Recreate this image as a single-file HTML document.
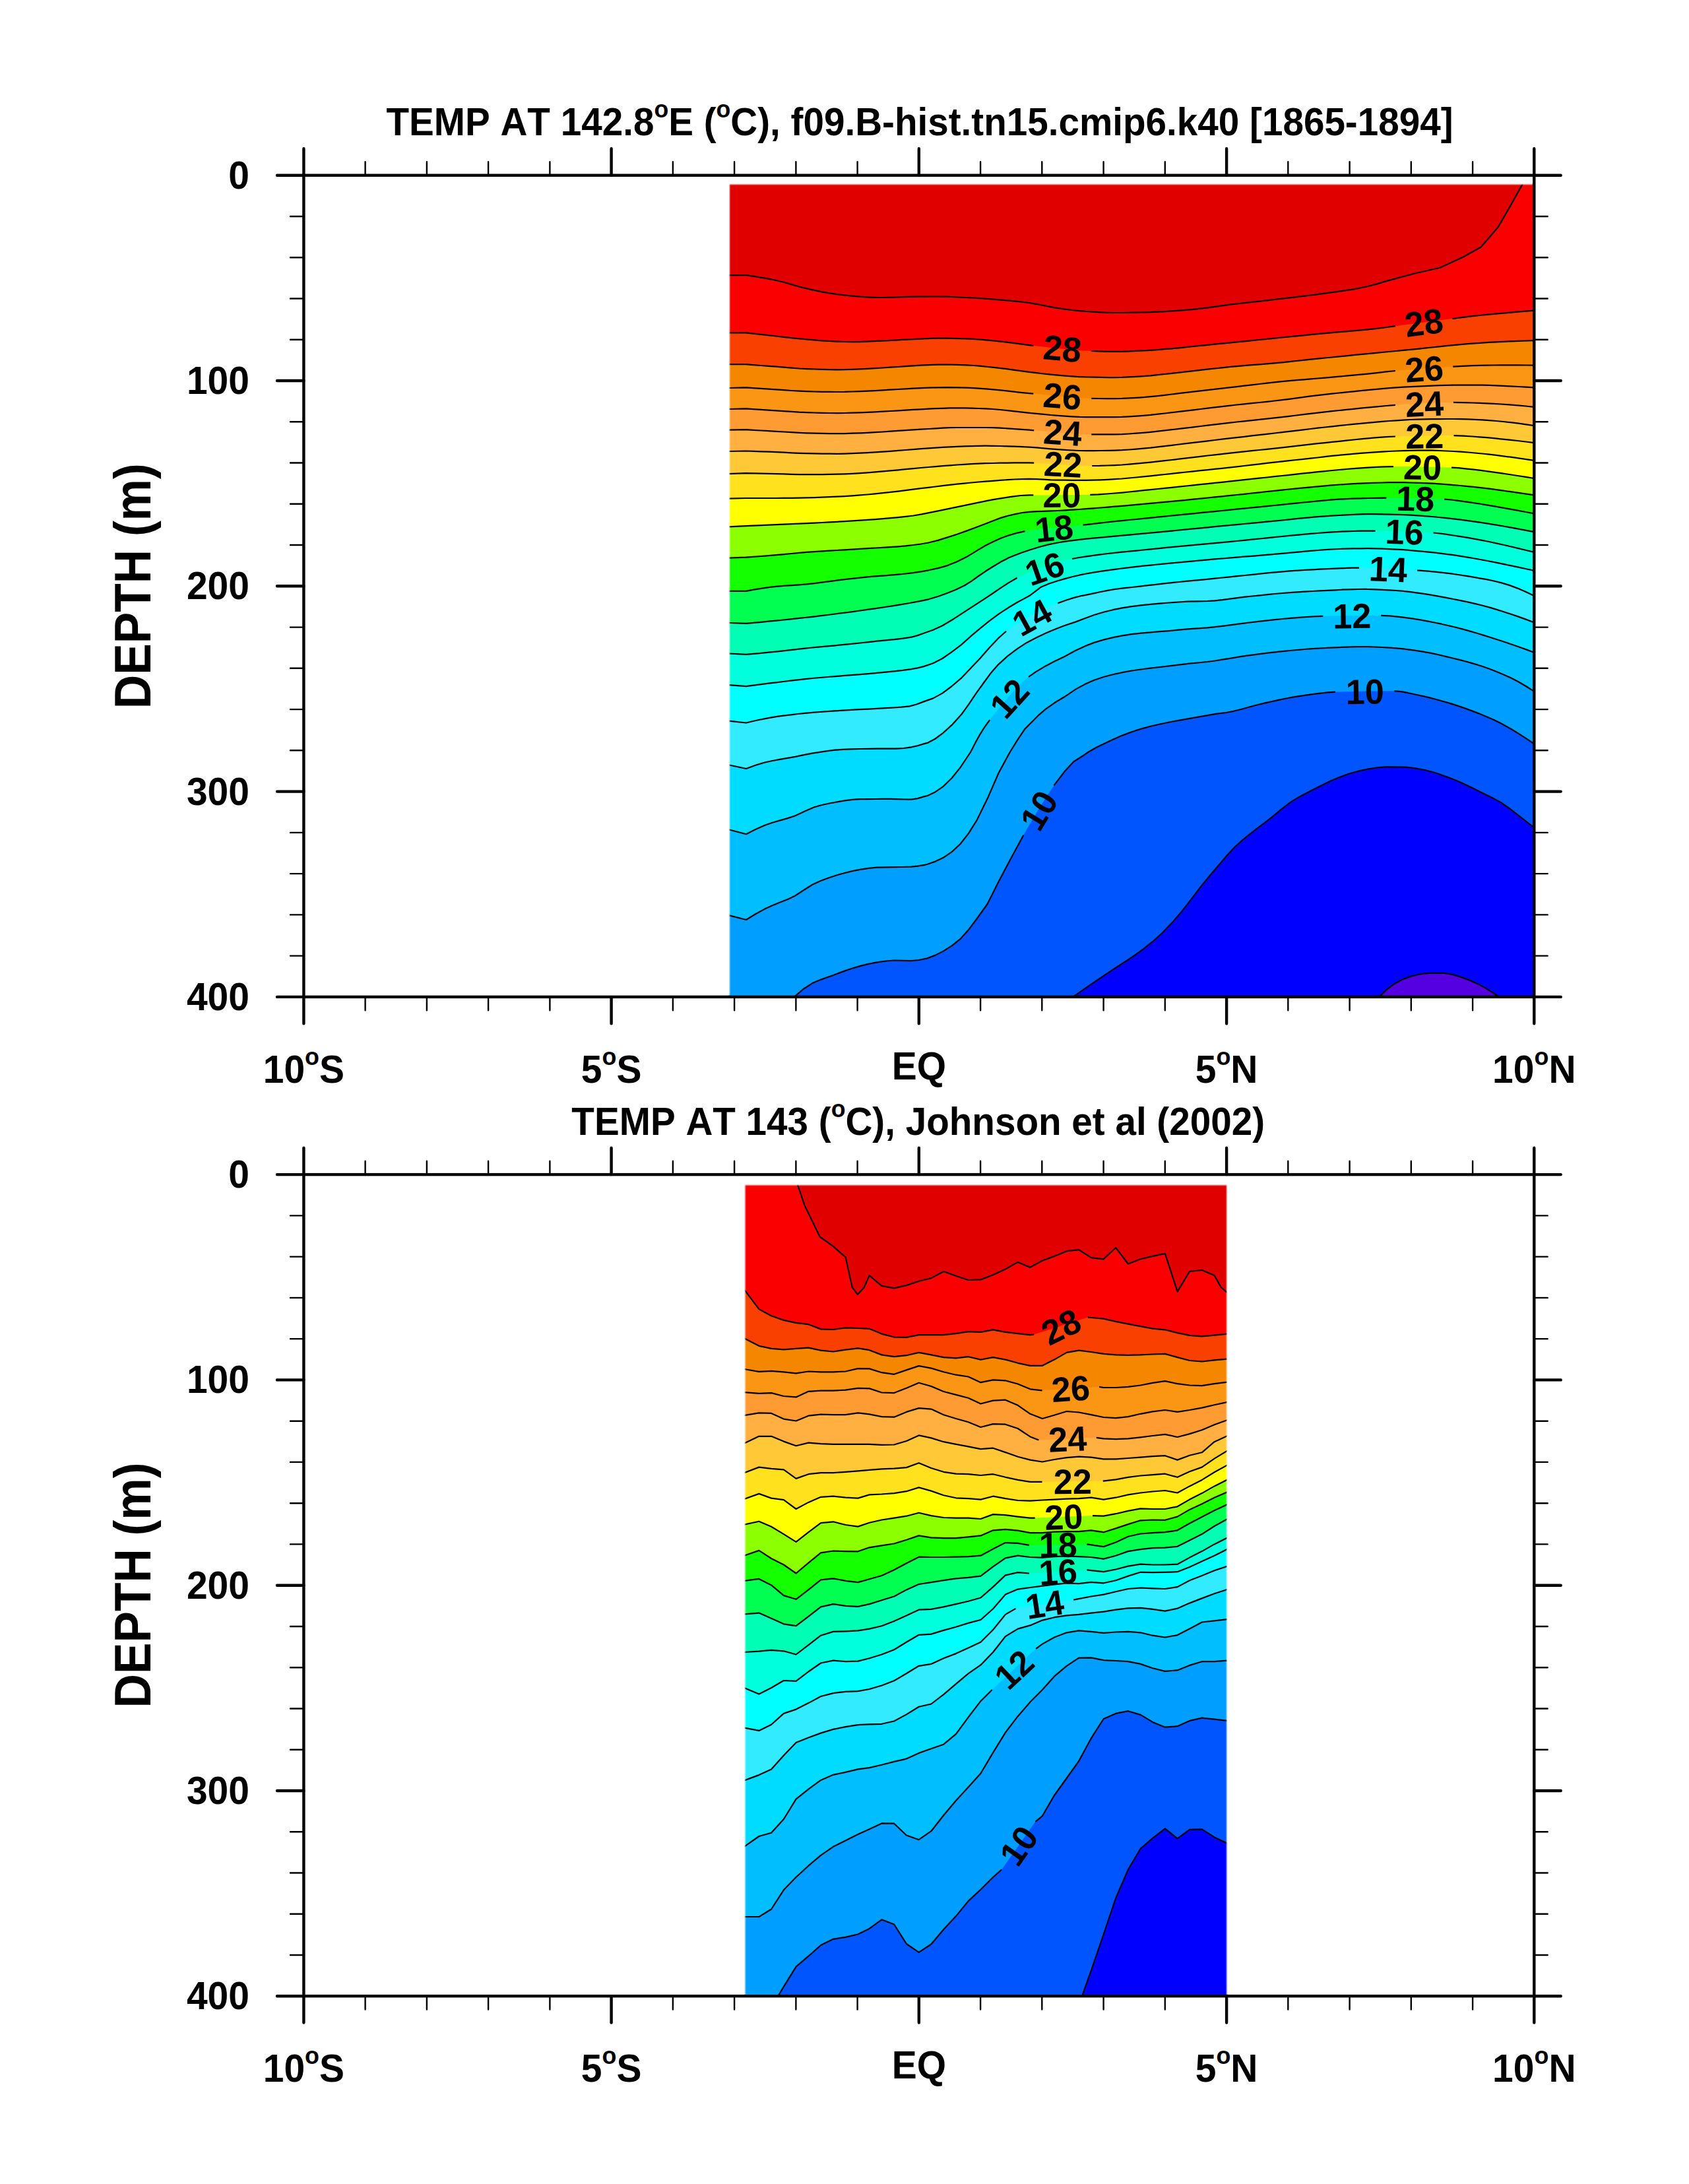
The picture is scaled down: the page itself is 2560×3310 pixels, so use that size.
<!DOCTYPE html>
<html lang="en"><head><meta charset="utf-8"><title>TEMP AT 142.8E</title>
<style>html,body{margin:0;padding:0;background:#fff}svg{display:block}text{font-kerning:none}</style></head>
<body>
<svg width="2560" height="3310" viewBox="0 0 2560 3310" font-family="'Liberation Sans', Arial, Helvetica, sans-serif" fill="#000">
<rect width="2560" height="3310" fill="#fff"/>
<defs><linearGradient id="gl" x1="0" y1="0" x2="1" y2="0"><stop offset="0.15" stop-color="#fff"/><stop offset="1" stop-color="#fff" stop-opacity="0"/></linearGradient><linearGradient id="gr" x1="1" y1="0" x2="0" y2="0"><stop offset="0.15" stop-color="#fff"/><stop offset="1" stop-color="#fff" stop-opacity="0"/></linearGradient><linearGradient id="gt" x1="0" y1="0" x2="0" y2="1"><stop offset="0.15" stop-color="#fff"/><stop offset="1" stop-color="#fff" stop-opacity="0"/></linearGradient></defs>
<clipPath id="c1"><rect x="1104.5" y="278.1" width="1220.8" height="1232.8"/></clipPath>
<g clip-path="url(#c1)">
<rect x="1104.5" y="278.1" width="1220.8" height="1232.8" fill="#E00000"/>
<path fill="#FA0000" d="M1104.5 417.2 1130.4 417.2 1141.9 418.7 1153.5 420.6 1165 422.7 1176.5 425 1188 427.8 1199.6 431.1 1211.2 434.5 1222.7 437.4 1234.2 439.9 1245.8 442.3 1257.3 444.4 1268.8 446.1 1280.3 447.5 1291.9 448.7 1303.5 449.7 1315 450.4 1325.1 450.8 1335.2 451 1346 450.8 1356.8 450.5 1367.7 450.1 1378.5 449.8 1389.3 449.7 1400.1 449.6 1410.9 449.5 1421.7 449.5 1432.5 449.6 1443.3 450 1454.2 450.5 1465 451 1475.8 451.6 1486.7 452.2 1497.5 453 1508.3 453.8 1521.2 454.9 1534.1 456.1 1547 457.4 1560 459 1570.8 460.8 1581.6 463 1592.5 465.2 1603.3 467.1 1614.1 468.6 1624.9 470 1635.7 471.1 1646.5 472 1657.3 472.7 1668.2 473.4 1679 473.8 1689.8 474 1700.6 474 1711.4 473.9 1722.3 473.7 1733.1 473.5 1743.9 473.2 1754.7 472.7 1765.5 472.1 1776.3 471.4 1787.1 470.7 1797.9 469.8 1808.8 468.8 1819.6 467.7 1830.4 466.4 1841.2 464.9 1852.1 463.4 1862.9 461.9 1874.4 460.5 1885.9 459.2 1897.4 457.9 1908.8 456.6 1920.3 455.3 1931.8 454 1943.3 452.7 1954.1 451.4 1964.9 450.1 1975.7 448.8 1986.5 447.5 1997.3 446.1 2008.2 444.7 2019 443.2 2029.8 441.7 2039.9 440.2 2050 438.6 2060.1 436.8 2074 433.7 2088 430.1 2101.9 425.9 2145.2 414.3 2182.7 405.7 2217.3 389.8 2244.7 374.5 2270.7 344.2 2289.4 311.9 2308.2 278.1 2325.3 278.1 2325.3 1510.9 1104.5 1510.9 Z"/>
<path fill="#FA4000" d="M1104.5 504.3 1130.4 504.3 1141.9 505.6 1153.5 506.9 1165 508.2 1176.5 509.5 1188 510.8 1199.6 512.1 1211.2 513.3 1222.7 514.4 1234.2 515.4 1245.8 516.3 1257.3 517 1268.8 517.6 1280.3 518 1291.9 518.2 1302.7 518.1 1313.6 517.7 1324.4 517.2 1335.2 516.7 1346 516.2 1356.8 515.6 1367.7 514.9 1378.5 514.4 1389.3 513.9 1400.1 513.3 1410.9 512.9 1421.7 512.7 1432.5 512.7 1443.3 512.9 1454.2 513.1 1465 513.3 1475.8 513.8 1486.7 514.6 1497.5 515.6 1508.3 516.7 1521.2 518.1 1534.1 519.7 1547 521.4 1560 523.1 1566.3 523.9 1578.9 525.3 1591.4 526.7 1604 528.1 1616.6 529.4 1629.2 530.5 1641.7 531.4 1654.3 532 1666.1 532.4 1678 532.8 1689.8 532.9 1700.6 532.8 1711.4 532.4 1722.3 531.9 1733.1 531.4 1743.9 530.8 1754.7 530.1 1765.5 529.2 1776.3 528.3 1787.1 527.3 1797.9 526.2 1808.8 525 1819.6 523.9 1830.4 522.8 1841.2 521.7 1852.1 520.7 1862.9 519.6 1874.4 518.4 1885.9 517.3 1897.4 516.1 1908.8 515 1920.3 513.8 1931.8 512.7 1943.3 511.5 1954.1 510.4 1964.9 509.3 1975.7 508.3 1986.5 507.2 1997.3 506.2 2008.2 505.2 2019 504.2 2029.8 503.2 2040.6 502.3 2051.4 501.4 2062.3 500.4 2073.1 499.4 2087.5 497.8 2101.9 496 2114.9 494.2 2127.3 492.5 2139.6 490.9 2152 489.3 2164.3 487.7 2176.7 486.1 2189 484.6 2201.4 483 2211.5 481.7 2221.6 480.4 2231.7 479.2 2242.5 478 2253.3 476.9 2264.2 475.9 2275 474.9 2287.6 473.8 2300.2 472.7 2312.7 471.6 2325.3 470.6 2325.3 1510.9 1104.5 1510.9 Z"/>
<path fill="#F58700" d="M1104.5 552.2 1130.4 552.2 1141.9 553.1 1153.5 554 1165 554.8 1176.5 555.7 1188 556.6 1199.6 557.6 1211.2 558.5 1222.7 559.1 1234.2 559.5 1245.8 559.9 1257.3 560.2 1268.8 560.3 1280.3 560.2 1291.9 559.8 1303.5 559.3 1315 558.8 1326.5 558.2 1338.1 557.5 1349.7 556.7 1361.2 556 1372.7 555.2 1384.2 554.4 1395.8 553.6 1407.3 553.1 1421.8 552.7 1436.2 552.5 1450.6 552.8 1465 553.4 1475.8 554 1486.7 554.9 1497.5 556 1508.3 557.1 1521.2 558.6 1534.1 560.3 1547 562.1 1560 563.8 1570.8 565.1 1581.6 566.5 1592.5 567.7 1603.3 568.7 1614.1 569.6 1624.9 570.4 1635.7 571.1 1646.5 571.5 1657.3 571.7 1668.2 571.9 1679 572.1 1689.8 572.1 1700.6 571.9 1711.4 571.4 1722.3 570.8 1733.1 570.1 1743.9 569.3 1754.7 568.2 1765.5 567 1776.3 565.8 1787.1 564.6 1797.9 563.4 1808.8 562.1 1819.6 560.9 1830.4 559.7 1841.2 558.5 1852.1 557.3 1862.9 556.2 1874.4 555.1 1885.9 554.1 1897.4 553.2 1908.8 552.3 1920.3 551.3 1931.8 550.4 1943.3 549.3 1954.1 548.2 1964.9 547 1975.7 545.8 1986.5 544.7 1997.3 543.6 2008.2 542.5 2019 541.5 2029.8 540.4 2040.6 539.3 2051.4 538.2 2062.3 537.2 2073.1 536.1 2083.9 535.1 2094.7 534 2105.5 533 2116.3 532 2127.1 530.9 2137.9 529.9 2148.8 528.8 2159.6 527.7 2170.4 526.5 2181.2 525.3 2192.1 524.2 2202.9 523.1 2213.7 522.1 2224.6 521.2 2235.4 520.4 2246.2 519.6 2257 518.9 2267.8 518.3 2278.6 517.8 2289.4 517.3 2301.4 516.9 2313.3 516.5 2325.3 516.2 2325.3 1510.9 1104.5 1510.9 Z"/>
<path fill="#FA9614" d="M1104.5 588 1130.4 587.4 1141.9 588.1 1153.5 588.9 1165 589.6 1176.5 590.3 1188 591.1 1199.6 592 1211.2 592.7 1222.7 593.2 1234.2 593.5 1245.8 593.8 1257.3 593.9 1268.8 594 1280.3 593.9 1291.9 593.5 1303.5 593.1 1315 592.6 1326.5 592.1 1338.1 591.4 1349.7 590.7 1361.2 590 1372.7 589.4 1384.2 588.7 1395.8 588.1 1407.3 587.7 1421.8 587.3 1436.2 587.1 1450.6 587.3 1465 587.7 1475.8 588.2 1486.7 588.9 1497.5 589.7 1508.3 590.6 1521.2 591.8 1534.1 593.3 1547 594.8 1560 596.1 1566.3 596.6 1578.9 597.7 1591.4 599 1604 600.3 1616.6 601.5 1629.2 602.6 1641.7 603.4 1654.3 603.8 1666.1 604 1678 604.1 1689.8 604.1 1700.6 603.9 1711.4 603.4 1722.3 602.8 1733.1 602.1 1743.9 601.2 1754.7 600.1 1765.5 598.8 1776.3 597.5 1787.1 596.2 1797.9 594.9 1808.8 593.6 1819.6 592.3 1830.4 591.1 1841.2 589.8 1852.1 588.6 1862.9 587.4 1874.4 586.1 1885.9 584.7 1897.4 583.3 1908.8 582 1920.3 580.6 1931.8 579.4 1943.3 578.2 1954.1 577.2 1964.9 576.2 1975.7 575.3 1986.5 574.4 1997.3 573.5 2008.2 572.6 2019 571.6 2029.8 570.7 2040.6 569.7 2051.4 568.7 2062.3 567.7 2073.1 566.6 2087 565.1 2101 563.4 2114.9 562 2127.4 560.9 2139.9 559.9 2152.4 559 2164.8 558.1 2177.3 557.2 2189.8 556.4 2202.3 555.7 2217 554.8 2231.7 554.2 2242.5 553.9 2253.3 553.6 2264.2 553.5 2275 553.4 2287.6 553.4 2300.2 553.4 2312.7 553.5 2325.3 553.7 2325.3 1510.9 1104.5 1510.9 Z"/>
<path fill="#FF9B32" d="M1104.5 620 1130.4 619.4 1141.9 620.1 1153.5 620.9 1165 621.6 1176.5 622.3 1188 623.1 1199.6 623.9 1211.2 624.7 1222.7 625.2 1234.2 625.5 1245.8 625.8 1257.3 626 1268.8 626.1 1280.3 626 1291.9 625.7 1303.5 625.3 1315 624.9 1326.5 624.4 1338.1 623.7 1349.7 623 1361.2 622.3 1372.7 621.6 1384.2 620.9 1395.8 620.3 1407.3 619.7 1418.1 619.2 1428.9 618.8 1439.8 618.4 1450.6 618.3 1461.4 618.4 1472.2 618.6 1483 619 1493.8 619.4 1504.8 620 1515.8 621 1526.9 622.1 1537.9 623.4 1548.9 624.7 1560 625.8 1570.8 626.9 1581.6 627.9 1592.5 629 1603.3 629.8 1614.1 630.6 1624.9 631.3 1635.7 631.9 1646.5 632.1 1657.3 632.1 1668.2 632.1 1679 632.1 1689.8 632.1 1700.6 631.9 1711.4 631.3 1722.3 630.6 1733.1 629.8 1743.9 628.9 1754.7 627.7 1765.5 626.5 1776.3 625.2 1787.1 623.9 1797.9 622.6 1808.8 621.3 1819.6 620 1830.4 618.7 1841.2 617.4 1852.1 616.1 1862.9 614.8 1874.4 613.5 1885.9 612.3 1897.4 611.2 1908.8 610 1920.3 608.8 1931.8 607.5 1943.3 606.2 1954.1 604.8 1964.9 603.3 1975.7 601.8 1986.5 600.4 1997.3 599.1 2008.2 597.9 2019 596.7 2029.8 595.5 2040.6 594.4 2051.4 593.3 2062.3 592.2 2073.1 591.2 2083.9 590.2 2094.7 589.2 2105.5 588.2 2116.3 587.4 2127.1 586.7 2137.9 586.1 2148.8 585.6 2159.6 585.1 2170.4 584.6 2181.2 584.2 2192.1 583.8 2202.9 583.7 2213.7 583.7 2224.6 583.7 2235.4 583.7 2246.2 583.7 2257 583.9 2267.8 584.3 2278.6 584.9 2289.4 585.4 2301.4 586 2313.3 586.7 2325.3 587.4 2325.3 1510.9 1104.5 1510.9 Z"/>
<path fill="#FFB040" d="M1104.5 651.7 1130.4 651.2 1141.9 651.9 1153.5 652.5 1165 653.2 1176.5 653.8 1188 654.5 1199.6 655.2 1211.2 655.8 1222.7 656.3 1234.2 656.6 1245.8 656.9 1257.3 657.1 1268.8 657.2 1280.3 657.1 1291.9 656.7 1303.5 656.3 1315 655.8 1326.5 655.2 1338.1 654.5 1349.7 653.7 1361.2 652.9 1372.7 652.2 1384.2 651.4 1395.8 650.7 1407.3 650 1418.1 649.4 1428.9 648.7 1439.8 648.2 1450.6 648 1461.4 648 1472.2 648 1483 648 1493.8 648 1504.8 648.2 1515.8 648.6 1526.9 649.3 1537.9 650.1 1548.9 650.9 1560 651.7 1567.2 652.3 1579.6 653.3 1592.1 654.5 1604.5 655.6 1617 656.7 1629.4 657.6 1641.9 658.2 1654.3 658.4 1666.1 658.4 1678 658.4 1689.8 658.4 1700.6 658.1 1711.4 657.5 1722.3 656.7 1733.1 655.8 1743.9 654.8 1754.7 653.7 1765.5 652.4 1776.3 651.2 1787.1 649.9 1797.9 648.6 1808.8 647.3 1819.6 646 1830.4 644.7 1841.2 643.4 1852.1 642.1 1862.9 640.8 1874.4 639.5 1885.9 638.3 1897.4 637.1 1908.8 635.8 1920.3 634.6 1931.8 633.4 1943.3 632.1 1954.1 630.8 1964.9 629.5 1975.7 628.2 1986.5 626.9 1997.3 625.6 2008.2 624.4 2019 623.2 2029.8 622 2040.6 620.9 2051.4 619.8 2062.3 618.7 2073.1 617.7 2087 616.3 2101 615 2114.9 613.9 2127.5 613.1 2140 612.3 2152.6 611.5 2165.2 610.9 2177.8 610.4 2190.3 610 2202.9 609.9 2217.3 610.1 2231.7 610.5 2242.5 610.9 2253.3 611.3 2264.2 611.9 2275 612.5 2287.6 613.3 2300.2 614.4 2312.7 615.5 2325.3 616.8 2325.3 1510.9 1104.5 1510.9 Z"/>
<path fill="#FFC837" d="M1104.5 684 1130.4 683.5 1141.9 683.9 1153.5 684.3 1165 684.7 1176.5 685.2 1188 685.7 1199.6 686.3 1211.2 686.8 1222.7 687.2 1234.2 687.4 1245.8 687.6 1257.3 687.7 1268.8 687.8 1280.3 687.6 1291.9 687.2 1303.5 686.7 1315 686.1 1326.5 685.4 1338.1 684.6 1349.7 683.8 1361.2 682.9 1372.7 682 1384.2 681.1 1395.8 680.2 1407.3 679.4 1418.1 678.7 1428.9 677.9 1439.8 677.3 1450.6 676.8 1461.4 676.4 1472.2 676.1 1483 675.8 1493.8 675.7 1504.8 675.8 1515.8 676 1526.9 676.3 1537.9 676.7 1548.9 677.2 1560 677.7 1570.8 678.4 1581.6 679.4 1592.5 680.4 1603.3 681.2 1614.1 681.9 1624.9 682.5 1635.7 683 1646.5 683.2 1657.3 683.2 1668.2 683 1679 682.8 1689.8 682.6 1700.6 682.2 1711.4 681.5 1722.3 680.6 1733.1 679.7 1743.9 678.7 1754.7 677.4 1765.5 676.1 1776.3 674.8 1787.1 673.5 1797.9 672.2 1808.8 670.9 1819.6 669.6 1830.4 668.3 1841.2 667 1852.1 665.7 1862.9 664.4 1874.4 663.1 1885.9 661.8 1897.4 660.4 1908.8 659.2 1920.3 657.9 1931.8 656.5 1943.3 655.2 1954.1 653.9 1964.9 652.6 1975.7 651.3 1986.5 650 1997.3 648.7 2008.2 647.5 2019 646.3 2029.8 645.1 2040.6 644 2051.4 642.9 2062.3 641.8 2073.1 640.8 2083.9 639.8 2094.7 638.9 2105.5 638 2116.3 637.3 2127.1 636.7 2137.9 636 2148.8 635.6 2159.6 635.3 2170.4 635.2 2181.2 635.1 2192.1 635 2202.9 635 2213.7 635.1 2224.6 635.4 2235.4 635.9 2246.2 636.4 2257 637.1 2267.8 638 2278.6 639 2289.4 640.2 2301.4 641.6 2313.3 643.3 2325.3 645.1 2325.3 1510.9 1104.5 1510.9 Z"/>
<path fill="#FFE11E" d="M1104.5 718.1 1130.4 717.2 1141.9 717.4 1153.5 717.6 1165 717.9 1176.5 718.1 1188 718.4 1199.6 718.8 1211.2 719.1 1222.7 719.2 1234.2 719.2 1245.8 719.1 1257.3 718.9 1268.8 718.7 1280.3 718.3 1291.9 717.8 1303.5 717.1 1315 716.3 1326.5 715.4 1338.1 714.4 1349.7 713.4 1361.2 712.3 1372.7 711.2 1384.2 710.1 1395.8 709 1407.3 708 1418.1 707.1 1428.9 706.1 1439.8 705.3 1450.6 704.5 1461.4 703.8 1472.2 703.1 1483 702.6 1493.8 702.2 1504.8 702 1515.8 701.7 1526.9 701.6 1537.9 701.4 1548.9 701.3 1560 701.3 1567.2 701.6 1579.8 702.3 1592.3 703 1604.9 703.9 1617.5 704.7 1630.1 705.4 1642.6 705.8 1655.2 706 1666.7 705.9 1678.3 705.5 1689.8 705.1 1700.6 704.5 1711.4 703.6 1722.3 702.6 1733.1 701.6 1743.9 700.6 1754.7 699.4 1765.5 698.2 1776.3 697 1787.1 695.7 1797.9 694.4 1808.8 693.1 1819.6 691.8 1830.4 690.5 1841.2 689.3 1852.1 688.1 1862.9 686.9 1874.4 685.6 1885.9 684.4 1897.4 683.2 1908.8 682 1920.3 680.8 1931.8 679.6 1943.3 678.3 1954.1 677.1 1964.9 675.8 1975.7 674.6 1986.5 673.4 1997.3 672.2 2008.2 671.1 2019 669.9 2029.8 668.8 2040.6 667.6 2051.4 666.5 2062.3 665.4 2073.1 664.4 2087 663.2 2101 662.2 2114.9 661.5 2127.6 661.2 2140.2 660.9 2152.9 660.6 2165.5 660.4 2178.2 660.2 2190.8 660.1 2203.5 660.1 2217.6 660.6 2231.7 661.5 2242.5 662.3 2253.3 663.2 2264.2 664.2 2275 665.3 2287.6 666.6 2300.2 668 2312.7 669.5 2325.3 671.1 2325.3 1510.9 1104.5 1510.9 Z"/>
<path fill="#FFFF00" d="M1104.5 755.6 1130.4 755 1141.9 755 1153.5 755 1165 755 1176.5 755 1188 754.9 1199.6 754.8 1211.2 754.6 1222.7 754.4 1234.2 754.1 1245.8 753.7 1257.3 753.2 1268.8 752.7 1280.3 752.1 1291.9 751.3 1303.5 750.4 1315 749.5 1326.5 748.4 1338.1 747.2 1349.7 745.9 1361.2 744.6 1372.7 743.2 1384.2 741.7 1395.8 740.2 1407.3 738.8 1418.1 737.5 1428.9 736.2 1439.8 734.9 1450.6 733.7 1461.4 732.6 1472.2 731.5 1483 730.5 1493.8 729.6 1504.8 728.8 1515.8 727.9 1526.9 727.2 1537.9 726.5 1548.9 726.1 1560 725.9 1570.8 726.1 1581.6 726.7 1592.5 727.3 1603.3 727.6 1614.1 727.7 1624.9 727.8 1635.7 727.9 1646.5 727.9 1657.3 727.7 1668.2 727.3 1679 726.8 1689.8 726.2 1700.6 725.5 1711.4 724.5 1722.3 723.5 1733.1 722.4 1743.9 721.3 1754.7 720.2 1765.5 719 1776.3 717.8 1787.1 716.6 1797.9 715.5 1808.8 714.3 1819.6 713.2 1830.4 712.1 1841.2 710.9 1852.1 709.8 1862.9 708.6 1874.4 707.3 1885.9 706 1897.4 704.6 1908.8 703.3 1920.3 701.9 1931.8 700.6 1943.3 699.3 1954.1 698.1 1964.9 697 1975.7 695.9 1986.5 694.7 1997.3 693.5 2008.2 692.2 2019 690.9 2029.8 689.8 2040.6 688.8 2051.4 687.8 2062.3 686.9 2073.1 686.1 2083.9 685.3 2094.7 684.6 2105.5 684 2116.3 683.5 2127.1 683.2 2137.9 682.9 2148.8 682.7 2159.6 682.6 2170.4 682.7 2181.2 683 2192.1 683.5 2202.9 684 2213.7 684.6 2224.6 685.5 2235.4 686.5 2246.2 687.5 2257 688.6 2267.8 689.9 2278.6 691.3 2289.4 692.7 2301.4 694.3 2313.3 696.1 2325.3 697.9 2325.3 1510.9 1104.5 1510.9 Z"/>
<path fill="#8CFF00" d="M1104.5 798.3 1130.4 797.1 1141.9 796.6 1153.5 796.1 1165 795.6 1176.5 795.1 1188 794.6 1199.6 794.1 1211.2 793.6 1222.7 793.1 1234.2 792.6 1245.8 792 1257.3 791.4 1268.8 790.8 1280.3 790.1 1291.9 789.4 1303.5 788.7 1315 787.9 1326.5 787.1 1338.1 786.1 1349.7 785.2 1361.2 784.1 1372.7 782.9 1384.2 781.5 1396.7 779.4 1409.2 776.9 1421.7 774.3 1432.5 772.1 1443.3 769.9 1454.2 767.6 1465 765.4 1475.8 763.1 1486.7 760.8 1497.5 758.6 1508.3 756.7 1521.2 754.6 1534.1 752.6 1547 751 1560 750.4 1566.3 750.4 1578.6 750.4 1590.9 750.4 1603.2 750.3 1615.4 750.2 1627.7 750.1 1640 750 1652.3 749.8 1664.8 749.3 1677.3 748.5 1689.8 747.5 1700.6 746.6 1711.4 745.5 1722.3 744.3 1733.1 743.2 1743.9 742.1 1754.7 741 1765.5 739.9 1776.3 738.8 1787.1 737.7 1797.9 736.5 1808.8 735.4 1819.6 734.2 1830.4 733.1 1841.2 731.9 1852.1 730.8 1862.9 729.6 1874.4 728.4 1885.9 727.2 1897.4 725.9 1908.8 724.7 1920.3 723.5 1931.8 722.2 1943.3 721 1954.1 719.8 1964.9 718.6 1975.7 717.4 1986.5 716.3 1997.3 715.2 2008.2 714.1 2019 713 2029.8 712 2040.6 711 2051.4 710.1 2062.3 709.3 2073.1 708.6 2086.1 707.9 2099 707.3 2112 707.1 2124.6 707.1 2137.1 707.2 2149.7 707.4 2162.3 707.6 2174.9 707.9 2187.4 708.2 2200 708.6 2210.6 709.2 2221.1 710.3 2231.7 711.4 2242.5 712.7 2253.3 714.1 2264.2 715.6 2275 717.2 2287.6 719 2300.2 721 2312.7 722.9 2325.3 725 2325.3 1510.9 1104.5 1510.9 Z"/>
<path fill="#14FF00" d="M1104.5 845.6 1130.4 844.7 1141.9 843.9 1153.5 843 1165 842.1 1176.5 841.2 1188 840.1 1199.6 839 1211.2 837.9 1222.7 836.9 1234.2 836.1 1245.8 835.4 1257.3 834.7 1268.8 834 1280.3 833.3 1291.9 832.6 1303.5 831.9 1315 831.2 1326.5 830.5 1338.1 829.9 1349.7 829.1 1361.2 828.3 1372.7 827.3 1384.2 826 1395.8 824.5 1407.3 822.5 1421.8 818.9 1436.2 814.4 1450.6 809.7 1465 804.6 1479.4 799.2 1493.8 793.7 1505.4 789.3 1516.9 784.9 1528.5 781.5 1539 779.1 1549.5 777 1560 775.8 1570.8 775.2 1581.6 774.8 1592.5 774.4 1603.3 774 1614.1 773.4 1624.9 772.7 1635.7 772 1646.5 771.2 1657.3 770.4 1668.2 769.5 1679 768.6 1689.8 767.7 1700.6 766.8 1711.4 765.8 1722.3 764.9 1733.1 763.9 1743.9 762.9 1754.7 761.9 1765.5 760.9 1776.3 759.9 1787.1 758.8 1797.9 757.8 1808.8 756.7 1819.6 755.6 1830.4 754.5 1841.2 753.4 1852.1 752.3 1862.9 751.2 1874.4 750 1885.9 748.8 1897.4 747.5 1908.8 746.3 1920.3 745 1931.8 743.8 1943.3 742.6 1954.1 741.5 1964.9 740.4 1975.7 739.3 1986.5 738.3 1997.3 737.3 2008.2 736.3 2019 735.3 2029.8 734.5 2040.6 733.8 2051.4 733.2 2062.3 732.6 2073.1 732.2 2083.9 731.8 2094.7 731.5 2105.5 731.2 2116.3 731.1 2127.1 731.2 2137.9 731.5 2148.8 731.8 2159.6 732.2 2170.4 732.7 2181.2 733.4 2192.1 734.2 2202.9 735.1 2213.7 736 2224.6 737.1 2235.4 738.2 2246.2 739.4 2257 740.7 2267.8 742.2 2278.6 743.7 2289.4 745.2 2301.4 746.9 2313.3 748.6 2325.3 750.4 2325.3 1510.9 1104.5 1510.9 Z"/>
<path fill="#00FF50" d="M1104.5 895.9 1131 895.9 1142.4 893.7 1153.8 891.8 1165.1 890.1 1176.5 888.8 1188 887.8 1199.6 887.1 1211.2 886.3 1222.7 885.4 1234.2 884.1 1245.8 882.6 1257.3 881.1 1268.8 879.6 1280.3 878.2 1291.9 876.9 1303.5 875.6 1315 874.4 1326.5 873.4 1338.1 872.6 1349.7 871.7 1361.2 870.7 1372.7 869.5 1384.2 868.1 1395.8 866.4 1407.3 864.3 1421.8 861.1 1436.2 857.1 1450.6 851.3 1465 844.1 1479.4 835.4 1493.8 826.8 1505.4 821 1516.9 815.8 1528.5 811.5 1541 807.9 1553.6 805.2 1566.2 803.3 1578.7 801.8 1591.3 800.5 1603.9 799.3 1616.5 798.2 1629 797 1641.6 795.7 1653.6 794.3 1665.7 792.9 1677.8 791.5 1689.8 790.2 1700.6 789.1 1711.4 788 1722.3 787 1733.1 785.9 1743.9 784.8 1754.7 783.7 1765.5 782.6 1776.3 781.5 1787.1 780.4 1797.9 779.3 1808.8 778.3 1819.6 777.2 1830.4 776.1 1841.2 775.1 1852.1 774 1862.9 772.9 1874.4 771.7 1885.9 770.6 1897.4 769.4 1908.8 768.3 1920.3 767.1 1931.8 766 1943.3 764.8 1954.1 763.7 1964.9 762.6 1975.7 761.5 1986.5 760.5 1997.3 759.4 2008.2 758.4 2019 757.4 2029.8 756.7 2040.6 756.1 2051.4 755.6 2062.3 755.3 2073.1 755 2087.2 754.8 2101.3 754.7 2113.9 754.7 2126.4 754.9 2139 755.1 2151.6 755.4 2164.2 755.8 2176.7 756.2 2189.3 756.7 2199.9 757.5 2210.5 758.8 2221.1 760.3 2231.7 761.9 2242.5 763.5 2253.3 765.3 2264.2 767.2 2275 769.1 2287.6 771.3 2300.2 773.6 2312.7 776 2325.3 778.4 2325.3 1510.9 1104.5 1510.9 Z"/>
<path fill="#00FFB4" d="M1104.5 944 1131 944.9 1142.4 943.9 1153.8 942.8 1165.1 941.7 1176.5 940.6 1187.5 939.5 1198.4 938.4 1209.4 937.2 1220.3 936 1231.3 934.8 1242.8 933.4 1254.4 932 1266 930.5 1277.5 929 1290.5 927.3 1303.5 925.5 1316.4 923.7 1329.4 921.8 1341.7 920 1354 918.1 1366.2 916.1 1378.5 914 1392.9 911.4 1407.3 908.3 1421.8 904 1436.2 898.8 1449.2 893.5 1462.1 887.2 1472.7 880.6 1483.2 873 1493.8 865.8 1505.4 858.5 1516.9 851.6 1528.5 845.6 1539 841.2 1549.5 837.3 1560 833.8 1574.4 829.2 1588.8 825.4 1603.2 822.5 1617.7 820.2 1632.1 818.3 1646.5 816.7 1657.3 815.6 1668.2 814.6 1679 813.7 1689.8 812.7 1700.6 811.7 1711.4 810.7 1722.3 809.7 1733.1 808.7 1743.9 807.7 1754.7 806.7 1765.5 805.6 1776.3 804.6 1787.1 803.5 1797.9 802.4 1808.8 801.4 1819.6 800.3 1830.4 799.3 1841.2 798.2 1852.1 797.2 1862.9 796.2 1874.4 795.1 1885.9 794 1897.4 792.9 1908.8 791.8 1920.3 790.7 1931.8 789.6 1943.3 788.5 1954.1 787.4 1964.9 786.2 1975.7 785.1 1986.5 784.1 1997.3 783.2 2008.2 782.4 2019 781.6 2029.8 781 2040.6 780.4 2051.4 779.8 2062.3 779.4 2073.1 779.2 2083.9 779.2 2094.7 779.4 2105.5 779.6 2116.3 779.8 2127.1 780.2 2137.9 780.7 2148.8 781.4 2159.6 782.1 2170.4 783 2181.2 784 2192.1 785.2 2202.9 786.4 2213.7 787.7 2224.6 789.1 2235.4 790.6 2246.2 792.2 2257 793.9 2267.8 795.6 2278.6 797.5 2289.4 799.4 2301.4 801.6 2313.3 803.8 2325.3 806.1 2325.3 1510.9 1104.5 1510.9 Z"/>
<path fill="#00FFDC" d="M1104.5 990.5 1131 991.9 1142.4 990.9 1153.8 989.8 1165.1 988.7 1176.5 987.6 1187.5 986.4 1198.4 985.2 1209.4 983.9 1220.3 982.7 1231.3 981.5 1242.8 980.4 1254.4 979.3 1266 978.3 1277.5 977.2 1290.5 975.9 1303.5 974.5 1316.4 973.1 1329.4 971.7 1342.4 970.4 1355.3 969.2 1368.3 967.7 1381.3 965.7 1390.7 963.1 1400 959.7 1414.2 954.7 1428.4 948.3 1442.6 939.8 1456.8 930.6 1471 921.3 1485.3 912.1 1494.5 906.1 1503.7 900 1515.6 891.9 1527.4 884.1 1541.6 875.8 1553.5 870.5 1565.4 865.5 1577.3 861 1589.2 856.8 1601.1 853.1 1613 849.8 1624.9 847 1635.7 845 1646.5 843.3 1657.3 841.8 1668.2 840.4 1679 839 1689.8 837.8 1700.6 836.7 1711.4 835.6 1722.3 834.6 1733.1 833.5 1743.9 832.4 1754.7 831.3 1765.5 830.2 1776.3 829.1 1787.1 828.1 1797.9 827.1 1808.8 826.1 1819.6 825.1 1830.4 824.1 1841.2 823.1 1852.1 822.1 1862.9 821.1 1874.4 820 1885.9 818.8 1897.4 817.7 1908.8 816.5 1920.3 815.3 1931.8 814.1 1943.3 813 1954.1 811.9 1964.9 810.9 1975.7 809.8 1986.5 808.9 1997.3 808 2008.2 807.1 2019 806.4 2029.8 805.8 2040.6 805.4 2051.4 805 2062.3 804.7 2073.1 804.6 2084.6 804.6 2097.2 804.7 2109.7 804.9 2122.3 805.2 2134.9 805.6 2147.5 806.2 2160 806.8 2172.6 807.5 2182.7 808.5 2192.8 809.9 2202.9 811.5 2213.7 813.1 2224.6 814.9 2235.4 816.8 2246.2 818.8 2257 821 2267.8 823.3 2278.6 825.8 2289.4 828.3 2301.4 831.1 2313.3 834 2325.3 836.9 2325.3 1510.9 1104.5 1510.9 Z"/>
<path fill="#00FFFF" d="M1104.5 1038.1 1131 1040.1 1142.4 1038.6 1153.8 1037.1 1165.1 1035.7 1176.5 1034.3 1187.5 1033 1198.4 1031.6 1209.4 1030.3 1220.3 1029.1 1231.3 1028 1242.8 1027 1254.4 1026 1266 1025.1 1277.5 1024.2 1290.5 1023.2 1303.5 1022.1 1316.4 1021.1 1329.4 1019.9 1342.4 1018.7 1355.3 1017.4 1368.3 1015.9 1381.3 1014.1 1390.7 1012.4 1400 1010.1 1414.2 1005.2 1428.4 998 1442.6 988.1 1456.8 977.4 1471 964.7 1485.3 952.6 1499.5 941.2 1513.7 930.6 1527.9 921.3 1542.1 912.8 1551.3 907.9 1560.6 902.8 1577.3 890.1 1590.3 884.5 1603.3 880.2 1614.1 877.1 1624.9 874.2 1635.7 871.7 1646.5 869.5 1657.3 867.6 1668.2 865.9 1679 864.4 1689.8 862.9 1700.6 861.5 1711.4 860.2 1722.3 858.9 1733.1 857.7 1743.9 856.6 1754.7 855.5 1765.5 854.4 1776.3 853.4 1787.1 852.4 1797.9 851.3 1808.8 850.3 1819.6 849.3 1830.4 848.3 1841.2 847.4 1852.1 846.5 1862.9 845.6 1874.4 844.6 1885.9 843.7 1897.4 842.8 1908.8 841.8 1920.3 840.9 1931.8 839.9 1943.3 838.9 1954.1 837.9 1964.9 836.8 1975.7 835.8 1986.5 834.9 1997.3 834 2008.2 833.2 2019 832.5 2029.8 832 2040.6 831.7 2051.4 831.4 2062.3 831.3 2073.1 831.2 2083.9 831.3 2094.7 831.7 2105.5 832.1 2116.3 832.6 2127.1 833.2 2137.9 834.1 2148.8 835.1 2159.6 836.1 2170.4 837.2 2181.2 838.4 2192.1 839.8 2202.9 841.2 2213.7 842.8 2224.6 844.6 2235.4 846.5 2246.2 848.5 2257 850.5 2267.8 852.7 2278.6 854.9 2289.4 857.1 2301.4 859.6 2313.3 862.2 2325.3 864.9 2325.3 1510.9 1104.5 1510.9 Z"/>
<path fill="#32EBFF" d="M1104.5 1092.6 1131 1095.5 1142.4 1092.8 1153.8 1090.3 1165.1 1088.1 1176.5 1086.2 1187.5 1084.7 1198.4 1083.3 1209.4 1082 1220.3 1080.9 1231.3 1079.9 1242.8 1079 1254.4 1078.2 1266 1077.4 1277.5 1076.7 1290.5 1075.9 1303.5 1075.2 1316.4 1074.6 1329.4 1073.8 1341.7 1073.1 1354 1072.5 1366.2 1071.7 1378.5 1070.4 1389.2 1067.5 1400 1063.4 1414.2 1058.4 1428.4 1050.6 1442.6 1040 1456.8 1027.9 1471 1013 1485.3 998 1499.5 981.7 1513.7 966.8 1525 956.8 1536.2 949.1 1547.3 941.9 1558.5 935.3 1569.7 929.3 1580.9 923.7 1592 918.7 1603.2 914.2 1615.5 909.8 1627.7 905.9 1640 902.8 1646.5 901.6 1657.3 899.4 1668.2 897 1679 894.8 1689.8 893 1702.8 891.4 1715.8 890 1727.9 888.6 1740 887.2 1752.1 885.8 1764.2 884.4 1776.3 883.1 1787.1 882 1797.9 880.9 1808.8 879.9 1819.6 878.8 1830 877.8 1841.4 876.7 1852.7 875.5 1864.1 874.3 1875.4 873.2 1886.8 872 1898.2 870.8 1909.6 869.6 1920.9 868.4 1932.3 867.3 1943.7 866.3 1955.1 865.4 1966.4 864.6 1977.8 863.9 1989.1 863.3 2000.5 862.7 2012.6 862.1 2024.7 861.6 2036.7 861.1 2048.8 860.7 2060.9 860.6 2073.4 860.7 2085.8 861 2098.3 861.5 2110.7 862.1 2123.2 862.8 2135.6 863.5 2148.1 864.3 2161.6 865.3 2175 866.6 2188.5 868.1 2199.3 869.4 2210.1 871 2220.9 872.6 2231.7 874.4 2242.5 876.3 2253.3 878.2 2264.2 880.5 2275 883.1 2287.6 886.9 2300.2 891.6 2312.7 897 2325.3 903.1 2325.3 1510.9 1104.5 1510.9 Z"/>
<path fill="#00DCFF" d="M1104.5 1159.2 1131 1165 1145.1 1159.7 1159.2 1155.5 1170.8 1153 1182.3 1150.8 1193.9 1148.9 1205.4 1146.8 1218.3 1144.1 1231.3 1141.6 1242.8 1139.8 1254.4 1138.1 1266 1136.7 1277.5 1135.9 1290.5 1135.4 1303.5 1135 1316.4 1134.8 1329.4 1134.7 1343.8 1134.7 1358.3 1134.7 1369.8 1134 1381.3 1132.4 1390.7 1130.2 1400 1127.4 1405.7 1125.9 1417.1 1120 1428.4 1111.7 1442.6 1098.9 1456.8 1083.3 1468.2 1067.7 1479.6 1050.6 1490.9 1035 1502.3 1019.4 1513.7 1006.6 1527.9 993.8 1542.1 983.1 1556.3 973.9 1570.5 966.5 1584.7 959.7 1598.9 953.7 1613.1 948.3 1630 942.6 1644.2 937.2 1658.4 932 1672.6 927.7 1686.8 924.2 1701 921.4 1715.3 919.2 1729.5 917.4 1743.7 915.9 1757.9 914.6 1772.1 913.5 1786.3 912.5 1800.5 911.7 1815.2 911.4 1830 911 1841.4 910.3 1852.7 909.1 1864.1 907.6 1875.4 906.1 1886.8 904.7 1898.2 903.5 1909.6 902.3 1920.9 901.1 1932.3 900 1943.7 899 1955.1 898.1 1966.4 897.4 1977.8 896.6 1989.1 896 2000.5 895.4 2012.1 894.8 2023.7 894.3 2035.2 893.7 2046.8 893.3 2058.4 893 2070 892.9 2073.1 893 2083.9 893.4 2094.7 893.8 2105.5 894.4 2116.3 895 2127.1 895.9 2137.9 897.2 2148.8 898.6 2159.6 900.2 2170.4 901.9 2181.2 903.8 2192.1 905.9 2202.9 908 2213.7 910.2 2224.6 912.4 2235.4 914.9 2246.2 917.5 2257 920.4 2267.8 923.6 2278.6 927 2289.4 930.5 2301.4 934.6 2313.3 938.9 2325.3 943.5 2325.3 1510.9 1104.5 1510.9 Z"/>
<path fill="#00BEFF" d="M1104.5 1257.3 1131 1264.2 1145.1 1256.9 1159.2 1250.7 1170.8 1246.7 1182.3 1243.4 1193.9 1240.1 1205.4 1236.2 1219.8 1229.5 1234.2 1223.3 1245.8 1220 1257.3 1217.5 1268.8 1215.4 1280.4 1213.4 1292 1211.9 1303.5 1211.2 1315 1211.1 1326.5 1211 1338.1 1210.9 1349.6 1210.9 1360.2 1211.1 1370.7 1211.5 1381.3 1211.7 1390.7 1210.1 1400 1207.4 1405.7 1206 1417.8 1200.2 1429.8 1191.8 1442.6 1179.3 1455.4 1163.4 1471 1140 1478.2 1125.9 1485.3 1113.1 1492.4 1101.8 1500.2 1091.1 1512 1076.3 1523.8 1062 1535.5 1048.5 1547.3 1036.3 1559.1 1025.8 1570.5 1017.9 1584.7 1009.4 1598.9 1002 1613.1 995.2 1630 986 1644.2 979.4 1658.4 973.9 1672.6 969.6 1686.8 966.1 1701 963.3 1715.3 961.1 1729.5 959.6 1743.7 958.3 1757.9 957.2 1772.1 956.1 1786.3 954.7 1800.5 953.3 1815.2 952.3 1830 951.3 1841.4 950.2 1852.7 948.8 1864.1 947.3 1875.4 945.8 1886.8 944.4 1898.2 943 1909.6 941.7 1920.9 940.3 1932.3 939.1 1943.7 938 1956.2 936.9 1968.7 935.9 1981.2 935 1993.7 934.2 2006.2 933.8 2018.6 933.6 2031.1 933.3 2043.5 933.2 2056 933 2068.4 932.9 2080.9 932.8 2093.3 932.8 2105.8 933.4 2118.3 934.7 2130.8 936.2 2141.6 937.7 2152.4 939.4 2163.2 941.4 2174 943.5 2184.8 945.7 2195.7 948.2 2206.5 950.8 2217.3 953.6 2228.1 956.6 2238.9 959.8 2249.8 963.1 2260.6 966.5 2271.4 970 2282.2 973.5 2293 977.2 2303.8 981 2314.6 984.9 2325.3 989 2325.3 1510.9 1104.5 1510.9 Z"/>
<path fill="#009FFF" d="M1104.5 1387.1 1131 1394 1145.1 1385.3 1159.2 1377.6 1170.8 1372.3 1182.3 1367.6 1193.9 1362.9 1205.4 1357.4 1218.3 1349 1231.3 1340.7 1244.3 1334.8 1257.3 1330 1268.8 1326.3 1280.4 1323 1292 1320.1 1303.5 1317.9 1316.5 1315.9 1329.4 1314.7 1342.4 1314.3 1355.3 1314.2 1368.3 1314 1381.3 1313.6 1390.7 1312.7 1400 1311.2 1405.7 1309.8 1417.8 1305.6 1429.8 1299.8 1442.6 1291.1 1455.4 1279.2 1468.2 1262.9 1481 1242.3 1498 1207.4 1513.7 1171.2 1530.7 1140 1542.1 1121.7 1553.5 1104.6 1563.4 1094.7 1574.8 1083.3 1584.7 1074.8 1598.9 1064.8 1613.1 1056.3 1630 1044.9 1644.2 1037.1 1658.4 1030.7 1672.6 1026 1686.8 1022.2 1701 1019.1 1715.3 1016.5 1729.5 1014.5 1743.7 1012.7 1757.9 1011 1772.1 1009.4 1786.3 1007.6 1800.5 1005.9 1815.2 1004.5 1830 1003 1841.4 1001.5 1852.7 999.7 1864.1 997.8 1875.4 995.9 1886.8 994.2 1898.2 992.6 1909.6 991.1 1920.9 989.6 1932.3 988.3 1943.7 987.1 1955.1 986 1966.4 985 1977.8 984 1989.1 983.2 2000.5 982.5 2012.1 981.9 2023.7 981.3 2035.2 980.8 2046.8 980.4 2058.4 980.1 2070 980 2073.1 980.1 2083.9 980.5 2094.7 981 2105.5 981.7 2116.3 982.4 2127.1 983.4 2137.9 984.8 2148.8 986.4 2159.6 988.2 2170.4 990.2 2181.2 992.5 2192.1 995.1 2202.9 997.7 2213.7 1000.4 2224.6 1003.3 2235.4 1006.4 2246.2 1009.8 2257 1013.5 2267.8 1017.7 2278.6 1022.2 2289.4 1027.1 2301.4 1033.3 2313.3 1040.3 2325.3 1047.9 2325.3 1510.9 1104.5 1510.9 Z"/>
<path fill="#0055FF" d="M1203.9 1510.9 1217.6 1499 1231.3 1490.1 1244.3 1484.6 1257.3 1480 1268.8 1475.7 1280.4 1471.4 1292 1467.5 1303.5 1464.1 1316.5 1460.9 1329.4 1458.4 1342.4 1456.5 1355.4 1455.5 1368.3 1455.8 1381.3 1456.1 1392.8 1455 1404.4 1452.6 1417.4 1447.9 1430.4 1441.1 1443.3 1432.9 1456.3 1422.3 1468.6 1408.4 1480.9 1392 1496.6 1370 1513.7 1336 1527.9 1309 1542.1 1282.8 1551.3 1265.7 1562.8 1245.6 1574.4 1226.2 1586 1207.7 1597.5 1190.4 1613.1 1169.8 1627.4 1154.2 1640 1146.3 1649.2 1140 1660.9 1133.3 1672.6 1127.4 1686.8 1120.7 1701 1114.6 1715.2 1109.2 1729.5 1104.6 1743.7 1100.8 1757.9 1097.5 1772.1 1094.5 1786.3 1091.8 1800.5 1089.3 1814.7 1086.9 1828.9 1084.3 1843.1 1081.9 1858.4 1080 1869.8 1077.8 1881.2 1075 1892.5 1071.8 1903.9 1068.7 1915.3 1065.9 1926.7 1063.4 1938 1060.9 1949.4 1058.5 1960.7 1056.4 1972.1 1054.6 1985.6 1052.7 1999.1 1050.8 2012.6 1049.4 2026.1 1048.6 2038.6 1048.3 2051.1 1048 2063.6 1047.7 2076 1047.6 2088.5 1047.4 2101 1047.3 2113.5 1047.3 2124.1 1048.2 2134.6 1050.2 2145.2 1052.5 2156 1054.8 2166.8 1057.4 2177.7 1060.2 2188.5 1063.2 2199.3 1066.4 2210.1 1069.9 2220.9 1073.6 2231.7 1077.6 2242.5 1081.8 2253.3 1086.3 2264.2 1091.1 2275 1096.3 2289.4 1104.3 2303.8 1113.1 2314.6 1120.1 2325.3 1127.5 2325.3 1510.9 Z"/>
<path fill="#0000FF" d="M1626.3 1510.9 1638.6 1502.4 1650.8 1493.9 1663.1 1485.5 1675.4 1477.1 1686.9 1469.4 1698.5 1462 1710 1454.5 1721.6 1446.6 1733.1 1438.2 1747.5 1426.7 1761.9 1413.7 1776.3 1398.6 1790.8 1381.9 1805.2 1363.3 1819.6 1344.4 1834 1326.8 1848.5 1309.8 1860 1296.2 1871.5 1283.8 1883 1273.4 1894.4 1264 1905.9 1255.2 1917.3 1246.6 1928.8 1237.7 1943.2 1225.6 1957.7 1214.6 1972.1 1206.2 1986.5 1198.8 2001 1191.3 2015.4 1184.3 2029.8 1178.1 2044.2 1172.8 2058.7 1168.7 2073.1 1165.6 2087.5 1163.3 2101.9 1162.1 2116.4 1162.3 2130.8 1162.7 2145.2 1164.3 2159.6 1167 2174.1 1170.8 2188.5 1175.7 2202.9 1181.1 2217.3 1187.2 2231.8 1194.2 2246.2 1201.6 2260.6 1208.5 2275 1216.1 2289.4 1226.3 2303.8 1237.7 2314.6 1246 2325.3 1254.4 2325.3 1510.9 Z"/>
<path fill="#5500E0" d="M2090.4 1510.9 2101.9 1499.6 2113.5 1491 2126.4 1484.1 2139.4 1479.4 2152.4 1476.3 2165.4 1474.8 2176.9 1474.8 2188.5 1474.8 2201.4 1476.9 2214.4 1480.9 2227.4 1485.6 2240.4 1491.5 2251 1497.1 2261.5 1503.6 2272.1 1510.9 Z"/>
<path fill="none" stroke="#000" stroke-width="2.2" stroke-linejoin="round" d="M1104.5 417.2 1130.4 417.2 1141.9 418.7 1153.5 420.6 1165 422.7 1176.5 425 1188 427.8 1199.6 431.1 1211.2 434.5 1222.7 437.4 1234.2 439.9 1245.8 442.3 1257.3 444.4 1268.8 446.1 1280.3 447.5 1291.9 448.7 1303.5 449.7 1315 450.4 1325.1 450.8 1335.2 451 1346 450.8 1356.8 450.5 1367.7 450.1 1378.5 449.8 1389.3 449.7 1400.1 449.6 1410.9 449.5 1421.7 449.5 1432.5 449.6 1443.3 450 1454.2 450.5 1465 451 1475.8 451.6 1486.7 452.2 1497.5 453 1508.3 453.8 1521.2 454.9 1534.1 456.1 1547 457.4 1560 459 1570.8 460.8 1581.6 463 1592.5 465.2 1603.3 467.1 1614.1 468.6 1624.9 470 1635.7 471.1 1646.5 472 1657.3 472.7 1668.2 473.4 1679 473.8 1689.8 474 1700.6 474 1711.4 473.9 1722.3 473.7 1733.1 473.5 1743.9 473.2 1754.7 472.7 1765.5 472.1 1776.3 471.4 1787.1 470.7 1797.9 469.8 1808.8 468.8 1819.6 467.7 1830.4 466.4 1841.2 464.9 1852.1 463.4 1862.9 461.9 1874.4 460.5 1885.9 459.2 1897.4 457.9 1908.8 456.6 1920.3 455.3 1931.8 454 1943.3 452.7 1954.1 451.4 1964.9 450.1 1975.7 448.8 1986.5 447.5 1997.3 446.1 2008.2 444.7 2019 443.2 2029.8 441.7 2039.9 440.2 2050 438.6 2060.1 436.8 2074 433.7 2088 430.1 2101.9 425.9 2145.2 414.3 2182.7 405.7 2217.3 389.8 2244.7 374.5 2270.7 344.2 2289.4 311.9 2308.2 278.1 M1104.5 504.3 1130.4 504.3 1141.9 505.6 1153.5 506.9 1165 508.2 1176.5 509.5 1188 510.8 1199.6 512.1 1211.2 513.3 1222.7 514.4 1234.2 515.4 1245.8 516.3 1257.3 517 1268.8 517.6 1280.3 518 1291.9 518.2 1302.7 518.1 1313.6 517.7 1324.4 517.2 1335.2 516.7 1346 516.2 1356.8 515.6 1367.7 514.9 1378.5 514.4 1389.3 513.9 1400.1 513.3 1410.9 512.9 1421.7 512.7 1432.5 512.7 1443.3 512.9 1454.2 513.1 1465 513.3 1475.8 513.8 1486.7 514.6 1497.5 515.6 1508.3 516.7 1521.2 518.1 1534.1 519.7 1547 521.4 1560 523.1 1566.3 523.9 M1654.3 532 1666.1 532.4 1678 532.8 1689.8 532.9 1700.6 532.8 1711.4 532.4 1722.3 531.9 1733.1 531.4 1743.9 530.8 1754.7 530.1 1765.5 529.2 1776.3 528.3 1787.1 527.3 1797.9 526.2 1808.8 525 1819.6 523.9 1830.4 522.8 1841.2 521.7 1852.1 520.7 1862.9 519.6 1874.4 518.4 1885.9 517.3 1897.4 516.1 1908.8 515 1920.3 513.8 1931.8 512.7 1943.3 511.5 1954.1 510.4 1964.9 509.3 1975.7 508.3 1986.5 507.2 1997.3 506.2 2008.2 505.2 2019 504.2 2029.8 503.2 2040.6 502.3 2051.4 501.4 2062.3 500.4 2073.1 499.4 2087.5 497.8 2101.9 496 2114.9 494.2 M2201.4 483 2211.5 481.7 2221.6 480.4 2231.7 479.2 2242.5 478 2253.3 476.9 2264.2 475.9 2275 474.9 2287.6 473.8 2300.2 472.7 2312.7 471.6 2325.3 470.6 M1104.5 552.2 1130.4 552.2 1141.9 553.1 1153.5 554 1165 554.8 1176.5 555.7 1188 556.6 1199.6 557.6 1211.2 558.5 1222.7 559.1 1234.2 559.5 1245.8 559.9 1257.3 560.2 1268.8 560.3 1280.3 560.2 1291.9 559.8 1303.5 559.3 1315 558.8 1326.5 558.2 1338.1 557.5 1349.7 556.7 1361.2 556 1372.7 555.2 1384.2 554.4 1395.8 553.6 1407.3 553.1 1421.8 552.7 1436.2 552.5 1450.6 552.8 1465 553.4 1475.8 554 1486.7 554.9 1497.5 556 1508.3 557.1 1521.2 558.6 1534.1 560.3 1547 562.1 1560 563.8 1570.8 565.1 1581.6 566.5 1592.5 567.7 1603.3 568.7 1614.1 569.6 1624.9 570.4 1635.7 571.1 1646.5 571.5 1657.3 571.7 1668.2 571.9 1679 572.1 1689.8 572.1 1700.6 571.9 1711.4 571.4 1722.3 570.8 1733.1 570.1 1743.9 569.3 1754.7 568.2 1765.5 567 1776.3 565.8 1787.1 564.6 1797.9 563.4 1808.8 562.1 1819.6 560.9 1830.4 559.7 1841.2 558.5 1852.1 557.3 1862.9 556.2 1874.4 555.1 1885.9 554.1 1897.4 553.2 1908.8 552.3 1920.3 551.3 1931.8 550.4 1943.3 549.3 1954.1 548.2 1964.9 547 1975.7 545.8 1986.5 544.7 1997.3 543.6 2008.2 542.5 2019 541.5 2029.8 540.4 2040.6 539.3 2051.4 538.2 2062.3 537.2 2073.1 536.1 2083.9 535.1 2094.7 534 2105.5 533 2116.3 532 2127.1 530.9 2137.9 529.9 2148.8 528.8 2159.6 527.7 2170.4 526.5 2181.2 525.3 2192.1 524.2 2202.9 523.1 2213.7 522.1 2224.6 521.2 2235.4 520.4 2246.2 519.6 2257 518.9 2267.8 518.3 2278.6 517.8 2289.4 517.3 2301.4 516.9 2313.3 516.5 2325.3 516.2 M1104.5 588 1130.4 587.4 1141.9 588.1 1153.5 588.9 1165 589.6 1176.5 590.3 1188 591.1 1199.6 592 1211.2 592.7 1222.7 593.2 1234.2 593.5 1245.8 593.8 1257.3 593.9 1268.8 594 1280.3 593.9 1291.9 593.5 1303.5 593.1 1315 592.6 1326.5 592.1 1338.1 591.4 1349.7 590.7 1361.2 590 1372.7 589.4 1384.2 588.7 1395.8 588.1 1407.3 587.7 1421.8 587.3 1436.2 587.1 1450.6 587.3 1465 587.7 1475.8 588.2 1486.7 588.9 1497.5 589.7 1508.3 590.6 1521.2 591.8 1534.1 593.3 1547 594.8 1560 596.1 1566.3 596.6 M1654.3 603.8 1666.1 604 1678 604.1 1689.8 604.1 1700.6 603.9 1711.4 603.4 1722.3 602.8 1733.1 602.1 1743.9 601.2 1754.7 600.1 1765.5 598.8 1776.3 597.5 1787.1 596.2 1797.9 594.9 1808.8 593.6 1819.6 592.3 1830.4 591.1 1841.2 589.8 1852.1 588.6 1862.9 587.4 1874.4 586.1 1885.9 584.7 1897.4 583.3 1908.8 582 1920.3 580.6 1931.8 579.4 1943.3 578.2 1954.1 577.2 1964.9 576.2 1975.7 575.3 1986.5 574.4 1997.3 573.5 2008.2 572.6 2019 571.6 2029.8 570.7 2040.6 569.7 2051.4 568.7 2062.3 567.7 2073.1 566.6 2087 565.1 2101 563.4 2114.9 562 M2202.3 555.7 2217 554.8 2231.7 554.2 2242.5 553.9 2253.3 553.6 2264.2 553.5 2275 553.4 2287.6 553.4 2300.2 553.4 2312.7 553.5 2325.3 553.7 M1104.5 620 1130.4 619.4 1141.9 620.1 1153.5 620.9 1165 621.6 1176.5 622.3 1188 623.1 1199.6 623.9 1211.2 624.7 1222.7 625.2 1234.2 625.5 1245.8 625.8 1257.3 626 1268.8 626.1 1280.3 626 1291.9 625.7 1303.5 625.3 1315 624.9 1326.5 624.4 1338.1 623.7 1349.7 623 1361.2 622.3 1372.7 621.6 1384.2 620.9 1395.8 620.3 1407.3 619.7 1418.1 619.2 1428.9 618.8 1439.8 618.4 1450.6 618.3 1461.4 618.4 1472.2 618.6 1483 619 1493.8 619.4 1504.8 620 1515.8 621 1526.9 622.1 1537.9 623.4 1548.9 624.7 1560 625.8 1570.8 626.9 1581.6 627.9 1592.5 629 1603.3 629.8 1614.1 630.6 1624.9 631.3 1635.7 631.9 1646.5 632.1 1657.3 632.1 1668.2 632.1 1679 632.1 1689.8 632.1 1700.6 631.9 1711.4 631.3 1722.3 630.6 1733.1 629.8 1743.9 628.9 1754.7 627.7 1765.5 626.5 1776.3 625.2 1787.1 623.9 1797.9 622.6 1808.8 621.3 1819.6 620 1830.4 618.7 1841.2 617.4 1852.1 616.1 1862.9 614.8 1874.4 613.5 1885.9 612.3 1897.4 611.2 1908.8 610 1920.3 608.8 1931.8 607.5 1943.3 606.2 1954.1 604.8 1964.9 603.3 1975.7 601.8 1986.5 600.4 1997.3 599.1 2008.2 597.9 2019 596.7 2029.8 595.5 2040.6 594.4 2051.4 593.3 2062.3 592.2 2073.1 591.2 2083.9 590.2 2094.7 589.2 2105.5 588.2 2116.3 587.4 2127.1 586.7 2137.9 586.1 2148.8 585.6 2159.6 585.1 2170.4 584.6 2181.2 584.2 2192.1 583.8 2202.9 583.7 2213.7 583.7 2224.6 583.7 2235.4 583.7 2246.2 583.7 2257 583.9 2267.8 584.3 2278.6 584.9 2289.4 585.4 2301.4 586 2313.3 586.7 2325.3 587.4 M1104.5 651.7 1130.4 651.2 1141.9 651.9 1153.5 652.5 1165 653.2 1176.5 653.8 1188 654.5 1199.6 655.2 1211.2 655.8 1222.7 656.3 1234.2 656.6 1245.8 656.9 1257.3 657.1 1268.8 657.2 1280.3 657.1 1291.9 656.7 1303.5 656.3 1315 655.8 1326.5 655.2 1338.1 654.5 1349.7 653.7 1361.2 652.9 1372.7 652.2 1384.2 651.4 1395.8 650.7 1407.3 650 1418.1 649.4 1428.9 648.7 1439.8 648.2 1450.6 648 1461.4 648 1472.2 648 1483 648 1493.8 648 1504.8 648.2 1515.8 648.6 1526.9 649.3 1537.9 650.1 1548.9 650.9 1560 651.7 1567.2 652.3 M1654.3 658.4 1666.1 658.4 1678 658.4 1689.8 658.4 1700.6 658.1 1711.4 657.5 1722.3 656.7 1733.1 655.8 1743.9 654.8 1754.7 653.7 1765.5 652.4 1776.3 651.2 1787.1 649.9 1797.9 648.6 1808.8 647.3 1819.6 646 1830.4 644.7 1841.2 643.4 1852.1 642.1 1862.9 640.8 1874.4 639.5 1885.9 638.3 1897.4 637.1 1908.8 635.8 1920.3 634.6 1931.8 633.4 1943.3 632.1 1954.1 630.8 1964.9 629.5 1975.7 628.2 1986.5 626.9 1997.3 625.6 2008.2 624.4 2019 623.2 2029.8 622 2040.6 620.9 2051.4 619.8 2062.3 618.7 2073.1 617.7 2087 616.3 2101 615 2114.9 613.9 M2202.9 609.9 2217.3 610.1 2231.7 610.5 2242.5 610.9 2253.3 611.3 2264.2 611.9 2275 612.5 2287.6 613.3 2300.2 614.4 2312.7 615.5 2325.3 616.8 M1104.5 684 1130.4 683.5 1141.9 683.9 1153.5 684.3 1165 684.7 1176.5 685.2 1188 685.7 1199.6 686.3 1211.2 686.8 1222.7 687.2 1234.2 687.4 1245.8 687.6 1257.3 687.7 1268.8 687.8 1280.3 687.6 1291.9 687.2 1303.5 686.7 1315 686.1 1326.5 685.4 1338.1 684.6 1349.7 683.8 1361.2 682.9 1372.7 682 1384.2 681.1 1395.8 680.2 1407.3 679.4 1418.1 678.7 1428.9 677.9 1439.8 677.3 1450.6 676.8 1461.4 676.4 1472.2 676.1 1483 675.8 1493.8 675.7 1504.8 675.8 1515.8 676 1526.9 676.3 1537.9 676.7 1548.9 677.2 1560 677.7 1570.8 678.4 1581.6 679.4 1592.5 680.4 1603.3 681.2 1614.1 681.9 1624.9 682.5 1635.7 683 1646.5 683.2 1657.3 683.2 1668.2 683 1679 682.8 1689.8 682.6 1700.6 682.2 1711.4 681.5 1722.3 680.6 1733.1 679.7 1743.9 678.7 1754.7 677.4 1765.5 676.1 1776.3 674.8 1787.1 673.5 1797.9 672.2 1808.8 670.9 1819.6 669.6 1830.4 668.3 1841.2 667 1852.1 665.7 1862.9 664.4 1874.4 663.1 1885.9 661.8 1897.4 660.4 1908.8 659.2 1920.3 657.9 1931.8 656.5 1943.3 655.2 1954.1 653.9 1964.9 652.6 1975.7 651.3 1986.5 650 1997.3 648.7 2008.2 647.5 2019 646.3 2029.8 645.1 2040.6 644 2051.4 642.9 2062.3 641.8 2073.1 640.8 2083.9 639.8 2094.7 638.9 2105.5 638 2116.3 637.3 2127.1 636.7 2137.9 636 2148.8 635.6 2159.6 635.3 2170.4 635.2 2181.2 635.1 2192.1 635 2202.9 635 2213.7 635.1 2224.6 635.4 2235.4 635.9 2246.2 636.4 2257 637.1 2267.8 638 2278.6 639 2289.4 640.2 2301.4 641.6 2313.3 643.3 2325.3 645.1 M1104.5 718.1 1130.4 717.2 1141.9 717.4 1153.5 717.6 1165 717.9 1176.5 718.1 1188 718.4 1199.6 718.8 1211.2 719.1 1222.7 719.2 1234.2 719.2 1245.8 719.1 1257.3 718.9 1268.8 718.7 1280.3 718.3 1291.9 717.8 1303.5 717.1 1315 716.3 1326.5 715.4 1338.1 714.4 1349.7 713.4 1361.2 712.3 1372.7 711.2 1384.2 710.1 1395.8 709 1407.3 708 1418.1 707.1 1428.9 706.1 1439.8 705.3 1450.6 704.5 1461.4 703.8 1472.2 703.1 1483 702.6 1493.8 702.2 1504.8 702 1515.8 701.7 1526.9 701.6 1537.9 701.4 1548.9 701.3 1560 701.3 1567.2 701.6 M1655.2 706 1666.7 705.9 1678.3 705.5 1689.8 705.1 1700.6 704.5 1711.4 703.6 1722.3 702.6 1733.1 701.6 1743.9 700.6 1754.7 699.4 1765.5 698.2 1776.3 697 1787.1 695.7 1797.9 694.4 1808.8 693.1 1819.6 691.8 1830.4 690.5 1841.2 689.3 1852.1 688.1 1862.9 686.9 1874.4 685.6 1885.9 684.4 1897.4 683.2 1908.8 682 1920.3 680.8 1931.8 679.6 1943.3 678.3 1954.1 677.1 1964.9 675.8 1975.7 674.6 1986.5 673.4 1997.3 672.2 2008.2 671.1 2019 669.9 2029.8 668.8 2040.6 667.6 2051.4 666.5 2062.3 665.4 2073.1 664.4 2087 663.2 2101 662.2 2114.9 661.5 M2203.5 660.1 2217.6 660.6 2231.7 661.5 2242.5 662.3 2253.3 663.2 2264.2 664.2 2275 665.3 2287.6 666.6 2300.2 668 2312.7 669.5 2325.3 671.1 M1104.5 755.6 1130.4 755 1141.9 755 1153.5 755 1165 755 1176.5 755 1188 754.9 1199.6 754.8 1211.2 754.6 1222.7 754.4 1234.2 754.1 1245.8 753.7 1257.3 753.2 1268.8 752.7 1280.3 752.1 1291.9 751.3 1303.5 750.4 1315 749.5 1326.5 748.4 1338.1 747.2 1349.7 745.9 1361.2 744.6 1372.7 743.2 1384.2 741.7 1395.8 740.2 1407.3 738.8 1418.1 737.5 1428.9 736.2 1439.8 734.9 1450.6 733.7 1461.4 732.6 1472.2 731.5 1483 730.5 1493.8 729.6 1504.8 728.8 1515.8 727.9 1526.9 727.2 1537.9 726.5 1548.9 726.1 1560 725.9 1570.8 726.1 1581.6 726.7 1592.5 727.3 1603.3 727.6 1614.1 727.7 1624.9 727.8 1635.7 727.9 1646.5 727.9 1657.3 727.7 1668.2 727.3 1679 726.8 1689.8 726.2 1700.6 725.5 1711.4 724.5 1722.3 723.5 1733.1 722.4 1743.9 721.3 1754.7 720.2 1765.5 719 1776.3 717.8 1787.1 716.6 1797.9 715.5 1808.8 714.3 1819.6 713.2 1830.4 712.1 1841.2 710.9 1852.1 709.8 1862.9 708.6 1874.4 707.3 1885.9 706 1897.4 704.6 1908.8 703.3 1920.3 701.9 1931.8 700.6 1943.3 699.3 1954.1 698.1 1964.9 697 1975.7 695.9 1986.5 694.7 1997.3 693.5 2008.2 692.2 2019 690.9 2029.8 689.8 2040.6 688.8 2051.4 687.8 2062.3 686.9 2073.1 686.1 2083.9 685.3 2094.7 684.6 2105.5 684 2116.3 683.5 2127.1 683.2 2137.9 682.9 2148.8 682.7 2159.6 682.6 2170.4 682.7 2181.2 683 2192.1 683.5 2202.9 684 2213.7 684.6 2224.6 685.5 2235.4 686.5 2246.2 687.5 2257 688.6 2267.8 689.9 2278.6 691.3 2289.4 692.7 2301.4 694.3 2313.3 696.1 2325.3 697.9 M1104.5 798.3 1130.4 797.1 1141.9 796.6 1153.5 796.1 1165 795.6 1176.5 795.1 1188 794.6 1199.6 794.1 1211.2 793.6 1222.7 793.1 1234.2 792.6 1245.8 792 1257.3 791.4 1268.8 790.8 1280.3 790.1 1291.9 789.4 1303.5 788.7 1315 787.9 1326.5 787.1 1338.1 786.1 1349.7 785.2 1361.2 784.1 1372.7 782.9 1384.2 781.5 1396.7 779.4 1409.2 776.9 1421.7 774.3 1432.5 772.1 1443.3 769.9 1454.2 767.6 1465 765.4 1475.8 763.1 1486.7 760.8 1497.5 758.6 1508.3 756.7 1521.2 754.6 1534.1 752.6 1547 751 1560 750.4 1566.3 750.4 M1652.3 749.8 1664.8 749.3 1677.3 748.5 1689.8 747.5 1700.6 746.6 1711.4 745.5 1722.3 744.3 1733.1 743.2 1743.9 742.1 1754.7 741 1765.5 739.9 1776.3 738.8 1787.1 737.7 1797.9 736.5 1808.8 735.4 1819.6 734.2 1830.4 733.1 1841.2 731.9 1852.1 730.8 1862.9 729.6 1874.4 728.4 1885.9 727.2 1897.4 725.9 1908.8 724.7 1920.3 723.5 1931.8 722.2 1943.3 721 1954.1 719.8 1964.9 718.6 1975.7 717.4 1986.5 716.3 1997.3 715.2 2008.2 714.1 2019 713 2029.8 712 2040.6 711 2051.4 710.1 2062.3 709.3 2073.1 708.6 2086.1 707.9 2099 707.3 2112 707.1 M2200 708.6 2210.6 709.2 2221.1 710.3 2231.7 711.4 2242.5 712.7 2253.3 714.1 2264.2 715.6 2275 717.2 2287.6 719 2300.2 721 2312.7 722.9 2325.3 725 M1104.5 845.6 1130.4 844.7 1141.9 843.9 1153.5 843 1165 842.1 1176.5 841.2 1188 840.1 1199.6 839 1211.2 837.9 1222.7 836.9 1234.2 836.1 1245.8 835.4 1257.3 834.7 1268.8 834 1280.3 833.3 1291.9 832.6 1303.5 831.9 1315 831.2 1326.5 830.5 1338.1 829.9 1349.7 829.1 1361.2 828.3 1372.7 827.3 1384.2 826 1395.8 824.5 1407.3 822.5 1421.8 818.9 1436.2 814.4 1450.6 809.7 1465 804.6 1479.4 799.2 1493.8 793.7 1505.4 789.3 1516.9 784.9 1528.5 781.5 1539 779.1 1549.5 777 1560 775.8 1570.8 775.2 1581.6 774.8 1592.5 774.4 1603.3 774 1614.1 773.4 1624.9 772.7 1635.7 772 1646.5 771.2 1657.3 770.4 1668.2 769.5 1679 768.6 1689.8 767.7 1700.6 766.8 1711.4 765.8 1722.3 764.9 1733.1 763.9 1743.9 762.9 1754.7 761.9 1765.5 760.9 1776.3 759.9 1787.1 758.8 1797.9 757.8 1808.8 756.7 1819.6 755.6 1830.4 754.5 1841.2 753.4 1852.1 752.3 1862.9 751.2 1874.4 750 1885.9 748.8 1897.4 747.5 1908.8 746.3 1920.3 745 1931.8 743.8 1943.3 742.6 1954.1 741.5 1964.9 740.4 1975.7 739.3 1986.5 738.3 1997.3 737.3 2008.2 736.3 2019 735.3 2029.8 734.5 2040.6 733.8 2051.4 733.2 2062.3 732.6 2073.1 732.2 2083.9 731.8 2094.7 731.5 2105.5 731.2 2116.3 731.1 2127.1 731.2 2137.9 731.5 2148.8 731.8 2159.6 732.2 2170.4 732.7 2181.2 733.4 2192.1 734.2 2202.9 735.1 2213.7 736 2224.6 737.1 2235.4 738.2 2246.2 739.4 2257 740.7 2267.8 742.2 2278.6 743.7 2289.4 745.2 2301.4 746.9 2313.3 748.6 2325.3 750.4 M1104.5 895.9 1131 895.9 1142.4 893.7 1153.8 891.8 1165.1 890.1 1176.5 888.8 1188 887.8 1199.6 887.1 1211.2 886.3 1222.7 885.4 1234.2 884.1 1245.8 882.6 1257.3 881.1 1268.8 879.6 1280.3 878.2 1291.9 876.9 1303.5 875.6 1315 874.4 1326.5 873.4 1338.1 872.6 1349.7 871.7 1361.2 870.7 1372.7 869.5 1384.2 868.1 1395.8 866.4 1407.3 864.3 1421.8 861.1 1436.2 857.1 1450.6 851.3 1465 844.1 1479.4 835.4 1493.8 826.8 1505.4 821 1516.9 815.8 1528.5 811.5 1541 807.9 1553.5 805.2 M1641.6 795.7 1653.6 794.3 1665.7 792.9 1677.8 791.5 1689.8 790.2 1700.6 789.1 1711.4 788 1722.3 787 1733.1 785.9 1743.9 784.8 1754.7 783.7 1765.5 782.6 1776.3 781.5 1787.1 780.4 1797.9 779.3 1808.8 778.3 1819.6 777.2 1830.4 776.1 1841.2 775.1 1852.1 774 1862.9 772.9 1874.4 771.7 1885.9 770.6 1897.4 769.4 1908.8 768.3 1920.3 767.1 1931.8 766 1943.3 764.8 1954.1 763.7 1964.9 762.6 1975.7 761.5 1986.5 760.5 1997.3 759.4 2008.2 758.4 2019 757.4 2029.8 756.7 2040.6 756.1 2051.4 755.6 2062.3 755.3 2073.1 755 2087.2 754.8 2101.3 754.7 M2189.3 756.7 2199.9 757.5 2210.5 758.8 2221.1 760.3 2231.7 761.9 2242.5 763.5 2253.3 765.3 2264.2 767.2 2275 769.1 2287.6 771.3 2300.2 773.6 2312.7 776 2325.3 778.4 M1104.5 944 1131 944.9 1142.4 943.9 1153.8 942.8 1165.1 941.7 1176.5 940.6 1187.5 939.5 1198.4 938.4 1209.4 937.2 1220.3 936 1231.3 934.8 1242.8 933.4 1254.4 932 1266 930.5 1277.5 929 1290.5 927.3 1303.5 925.5 1316.4 923.7 1329.4 921.8 1341.7 920 1354 918.1 1366.2 916.1 1378.5 914 1392.9 911.4 1407.3 908.3 1421.8 904 1436.2 898.8 1449.2 893.5 1462.1 887.2 1472.7 880.6 1483.2 873 1493.8 865.8 1505.4 858.5 1516.9 851.6 1528.5 845.6 1539 841.2 1549.5 837.3 1560 833.8 1574.4 829.2 1588.8 825.4 1603.2 822.5 1617.7 820.2 1632.1 818.3 1646.5 816.7 1657.3 815.6 1668.2 814.6 1679 813.7 1689.8 812.7 1700.6 811.7 1711.4 810.7 1722.3 809.7 1733.1 808.7 1743.9 807.7 1754.7 806.7 1765.5 805.6 1776.3 804.6 1787.1 803.5 1797.9 802.4 1808.8 801.4 1819.6 800.3 1830.4 799.3 1841.2 798.2 1852.1 797.2 1862.9 796.2 1874.4 795.1 1885.9 794 1897.4 792.9 1908.8 791.8 1920.3 790.7 1931.8 789.6 1943.3 788.5 1954.1 787.4 1964.9 786.2 1975.7 785.1 1986.5 784.1 1997.3 783.2 2008.2 782.4 2019 781.6 2029.8 781 2040.6 780.4 2051.4 779.8 2062.3 779.4 2073.1 779.2 2083.9 779.2 2094.7 779.4 2105.5 779.6 2116.3 779.8 2127.1 780.2 2137.9 780.7 2148.8 781.4 2159.6 782.1 2170.4 783 2181.2 784 2192.1 785.2 2202.9 786.4 2213.7 787.7 2224.6 789.1 2235.4 790.6 2246.2 792.2 2257 793.9 2267.8 795.6 2278.6 797.5 2289.4 799.4 2301.4 801.6 2313.3 803.8 2325.3 806.1 M1104.5 990.5 1131 991.9 1142.4 990.9 1153.8 989.8 1165.1 988.7 1176.5 987.6 1187.5 986.4 1198.4 985.2 1209.4 983.9 1220.3 982.7 1231.3 981.5 1242.8 980.4 1254.4 979.3 1266 978.3 1277.5 977.2 1290.5 975.9 1303.5 974.5 1316.4 973.1 1329.4 971.7 1342.4 970.4 1355.3 969.2 1368.3 967.7 1381.3 965.7 1390.7 963.1 1400 959.7 1414.2 954.7 1428.4 948.3 1442.6 939.8 1456.8 930.6 1471 921.3 1485.3 912.1 1494.5 906.1 1503.7 900 1515.6 891.9 1527.4 884.1 1541.6 875.8 M1625 847 1635.7 845 1646.5 843.3 1657.3 841.8 1668.2 840.4 1679 839 1689.8 837.8 1700.6 836.7 1711.4 835.6 1722.3 834.6 1733.1 833.5 1743.9 832.4 1754.7 831.3 1765.5 830.2 1776.3 829.1 1787.1 828.1 1797.9 827.1 1808.8 826.1 1819.6 825.1 1830.4 824.1 1841.2 823.1 1852.1 822.1 1862.9 821.1 1874.4 820 1885.9 818.8 1897.4 817.7 1908.8 816.5 1920.3 815.3 1931.8 814.1 1943.3 813 1954.1 811.9 1964.9 810.9 1975.7 809.8 1986.5 808.9 1997.3 808 2008.2 807.1 2019 806.4 2029.8 805.8 2040.6 805.4 2051.4 805 2062.3 804.7 2073.1 804.6 2084.6 804.6 M2172.6 807.5 2182.7 808.5 2192.8 809.9 2202.9 811.5 2213.7 813.1 2224.6 814.9 2235.4 816.8 2246.2 818.8 2257 821 2267.8 823.3 2278.6 825.8 2289.4 828.3 2301.4 831.1 2313.3 834 2325.3 836.9 M1104.5 1038.1 1131 1040.1 1142.4 1038.6 1153.8 1037.1 1165.1 1035.7 1176.5 1034.3 1187.5 1033 1198.4 1031.6 1209.4 1030.3 1220.3 1029.1 1231.3 1028 1242.8 1027 1254.4 1026 1266 1025.1 1277.5 1024.2 1290.5 1023.2 1303.5 1022.1 1316.4 1021.1 1329.4 1019.9 1342.4 1018.7 1355.3 1017.4 1368.3 1015.9 1381.3 1014.1 1390.7 1012.4 1400 1010.1 1414.2 1005.2 1428.4 998 1442.6 988.1 1456.8 977.4 1471 964.7 1485.3 952.6 1499.5 941.2 1513.7 930.6 1527.9 921.3 1542.1 912.8 1551.3 907.9 1560.6 902.8 1577.3 890.1 1590.3 884.5 1603.3 880.2 1614.1 877.1 1624.9 874.2 1635.7 871.7 1646.5 869.5 1657.3 867.6 1668.2 865.9 1679 864.4 1689.8 862.9 1700.6 861.5 1711.4 860.2 1722.3 858.9 1733.1 857.7 1743.9 856.6 1754.7 855.5 1765.5 854.4 1776.3 853.4 1787.1 852.4 1797.9 851.3 1808.8 850.3 1819.6 849.3 1830.4 848.3 1841.2 847.4 1852.1 846.5 1862.9 845.6 1874.4 844.6 1885.9 843.7 1897.4 842.8 1908.8 841.8 1920.3 840.9 1931.8 839.9 1943.3 838.9 1954.1 837.9 1964.9 836.8 1975.7 835.8 1986.5 834.9 1997.3 834 2008.2 833.2 2019 832.5 2029.8 832 2040.6 831.7 2051.4 831.4 2062.3 831.3 2073.1 831.2 2083.9 831.3 2094.7 831.7 2105.5 832.1 2116.3 832.6 2127.1 833.2 2137.9 834.1 2148.8 835.1 2159.6 836.1 2170.4 837.2 2181.2 838.4 2192.1 839.8 2202.9 841.2 2213.7 842.8 2224.6 844.6 2235.4 846.5 2246.2 848.5 2257 850.5 2267.8 852.7 2278.6 854.9 2289.4 857.1 2301.4 859.6 2313.3 862.2 2325.3 864.9 M1104.5 1092.6 1131 1095.5 1142.4 1092.8 1153.8 1090.3 1165.1 1088.1 1176.5 1086.2 1187.5 1084.7 1198.4 1083.3 1209.4 1082 1220.3 1080.9 1231.3 1079.9 1242.8 1079 1254.4 1078.2 1266 1077.4 1277.5 1076.7 1290.5 1075.9 1303.5 1075.2 1316.4 1074.6 1329.4 1073.8 1341.7 1073.1 1354 1072.5 1366.2 1071.7 1378.5 1070.4 1389.2 1067.5 1400 1063.4 1414.2 1058.4 1428.4 1050.6 1442.6 1040 1456.8 1027.9 1471 1013 1485.3 998 1499.5 981.7 1513.7 966.8 1525 956.8 M1603.2 914.2 1615.5 909.8 1627.7 905.9 1640 902.8 1646.5 901.6 1657.3 899.4 1668.2 897 1679 894.8 1689.8 893 1702.8 891.4 1715.8 890 1727.9 888.6 1740 887.2 1752.1 885.8 1764.2 884.4 1776.3 883.1 1787.1 882 1797.9 880.9 1808.8 879.9 1819.6 878.8 1830 877.8 1841.4 876.7 1852.7 875.5 1864.1 874.3 1875.4 873.2 1886.8 872 1898.2 870.8 1909.6 869.6 1920.9 868.4 1932.3 867.3 1943.7 866.3 1955.1 865.4 1966.4 864.6 1977.8 863.9 1989.1 863.3 2000.5 862.7 2012.6 862.1 2024.7 861.6 2036.7 861.1 2048.8 860.7 2060.1 860.6 M2148.1 864.3 2161.6 865.3 2175 866.6 2188.5 868.1 2199.3 869.4 2210.1 871 2220.9 872.6 2231.7 874.4 2242.5 876.3 2253.3 878.2 2264.2 880.5 2275 883.1 2287.6 886.9 2300.2 891.6 2312.7 897 2325.3 903.1 M1104.5 1159.2 1131 1165 1145.1 1159.7 1159.2 1155.5 1170.8 1153 1182.3 1150.8 1193.9 1148.9 1205.4 1146.8 1218.3 1144.1 1231.3 1141.6 1242.8 1139.8 1254.4 1138.1 1266 1136.7 1277.5 1135.9 1290.5 1135.4 1303.5 1135 1316.4 1134.8 1329.4 1134.7 1343.8 1134.7 1358.3 1134.7 1369.8 1134 1381.3 1132.4 1390.7 1130.2 1400 1127.4 1405.7 1125.9 1417.1 1120 1428.4 1111.7 1442.6 1098.9 1456.8 1083.3 1468.2 1067.7 1479.6 1050.6 1490.9 1035 1502.3 1019.4 1513.7 1006.6 1527.9 993.8 1542.1 983.1 1556.3 973.9 1570.5 966.5 1584.7 959.7 1598.9 953.7 1613.1 948.3 1630 942.6 1644.2 937.2 1658.4 932 1672.6 927.7 1686.8 924.2 1701 921.4 1715.3 919.2 1729.5 917.4 1743.7 915.9 1757.9 914.6 1772.1 913.5 1786.3 912.5 1800.5 911.7 1815.2 911.4 1830 911 1841.4 910.3 1852.7 909.1 1864.1 907.6 1875.4 906.1 1886.8 904.7 1898.2 903.5 1909.6 902.3 1920.9 901.1 1932.3 900 1943.7 899 1955.1 898.1 1966.4 897.4 1977.8 896.6 1989.1 896 2000.5 895.4 2012.1 894.8 2023.7 894.3 2035.2 893.7 2046.8 893.3 2058.4 893 2070 892.9 2073.1 893 2083.9 893.4 2094.7 893.8 2105.5 894.4 2116.3 895 2127.1 895.9 2137.9 897.2 2148.8 898.6 2159.6 900.2 2170.4 901.9 2181.2 903.8 2192.1 905.9 2202.9 908 2213.7 910.2 2224.6 912.4 2235.4 914.9 2246.2 917.5 2257 920.4 2267.8 923.6 2278.6 927 2289.4 930.5 2301.4 934.6 2313.3 938.9 2325.3 943.5 M1104.5 1257.3 1131 1264.2 1145.1 1256.9 1159.2 1250.7 1170.8 1246.7 1182.3 1243.4 1193.9 1240.1 1205.4 1236.2 1219.8 1229.5 1234.2 1223.3 1245.8 1220 1257.3 1217.5 1268.8 1215.4 1280.4 1213.4 1292 1211.9 1303.5 1211.2 1315 1211.1 1326.5 1211 1338.1 1210.9 1349.6 1210.9 1360.2 1211.1 1370.7 1211.5 1381.3 1211.7 1390.7 1210.1 1400 1207.4 1405.7 1206 1417.8 1200.2 1429.8 1191.8 1442.6 1179.3 1455.4 1163.4 1471 1140 1478.2 1125.9 1485.3 1113.1 1492.4 1101.8 1500.2 1091.1 M1559.1 1025.8 1570.5 1017.9 1584.7 1009.4 1598.9 1002 1613.1 995.2 1630 986 1644.2 979.4 1658.4 973.9 1672.6 969.6 1686.8 966.1 1701 963.3 1715.3 961.1 1729.5 959.6 1743.7 958.3 1757.9 957.2 1772.1 956.1 1786.3 954.7 1800.5 953.3 1815.2 952.3 1830 951.3 1841.4 950.2 1852.7 948.8 1864.1 947.3 1875.4 945.8 1886.8 944.4 1898.2 943 1909.6 941.7 1920.9 940.3 1932.3 939.1 1943.7 938 1956.2 936.9 1968.7 935.9 1981.2 935 1993.7 934.2 2005.3 933.8 M2093.3 932.8 2105.8 933.4 2118.3 934.7 2130.8 936.2 2141.6 937.7 2152.4 939.4 2163.2 941.4 2174 943.5 2184.8 945.7 2195.7 948.2 2206.5 950.8 2217.3 953.6 2228.1 956.6 2238.9 959.8 2249.8 963.1 2260.6 966.5 2271.4 970 2282.2 973.5 2293 977.2 2303.8 981 2314.6 984.9 2325.3 989 M1104.5 1387.1 1131 1394 1145.1 1385.3 1159.2 1377.6 1170.8 1372.3 1182.3 1367.6 1193.9 1362.9 1205.4 1357.4 1218.3 1349 1231.3 1340.7 1244.3 1334.8 1257.3 1330 1268.8 1326.3 1280.4 1323 1292 1320.1 1303.5 1317.9 1316.5 1315.9 1329.4 1314.7 1342.4 1314.3 1355.3 1314.2 1368.3 1314 1381.3 1313.6 1390.7 1312.7 1400 1311.2 1405.7 1309.8 1417.8 1305.6 1429.8 1299.8 1442.6 1291.1 1455.4 1279.2 1468.2 1262.9 1481 1242.3 1498 1207.4 1513.7 1171.2 1530.7 1140 1542.1 1121.7 1553.5 1104.6 1563.4 1094.7 1574.8 1083.3 1584.7 1074.8 1598.9 1064.8 1613.1 1056.3 1630 1044.9 1644.2 1037.1 1658.4 1030.7 1672.6 1026 1686.8 1022.2 1701 1019.1 1715.3 1016.5 1729.5 1014.5 1743.7 1012.7 1757.9 1011 1772.1 1009.4 1786.3 1007.6 1800.5 1005.9 1815.2 1004.5 1830 1003 1841.4 1001.5 1852.7 999.7 1864.1 997.8 1875.4 995.9 1886.8 994.2 1898.2 992.6 1909.6 991.1 1920.9 989.6 1932.3 988.3 1943.7 987.1 1955.1 986 1966.4 985 1977.8 984 1989.1 983.2 2000.5 982.5 2012.1 981.9 2023.7 981.3 2035.2 980.8 2046.8 980.4 2058.4 980.1 2070 980 2073.1 980.1 2083.9 980.5 2094.7 981 2105.5 981.7 2116.3 982.4 2127.1 983.4 2137.9 984.8 2148.8 986.4 2159.6 988.2 2170.4 990.2 2181.2 992.5 2192.1 995.1 2202.9 997.7 2213.7 1000.4 2224.6 1003.3 2235.4 1006.4 2246.2 1009.8 2257 1013.5 2267.8 1017.7 2278.6 1022.2 2289.4 1027.1 2301.4 1033.3 2313.3 1040.3 2325.3 1047.9 M1203.9 1510.9 1217.6 1499 1231.3 1490.1 1244.3 1484.6 1257.3 1480 1268.8 1475.7 1280.4 1471.4 1292 1467.5 1303.5 1464.1 1316.5 1460.9 1329.4 1458.4 1342.4 1456.5 1355.4 1455.5 1368.3 1455.8 1381.3 1456.1 1392.8 1455 1404.4 1452.6 1417.4 1447.9 1430.4 1441.1 1443.3 1432.9 1456.3 1422.3 1468.6 1408.4 1480.9 1392 1496.6 1370 1513.7 1336 1527.9 1309 1542.1 1282.8 1551.3 1265.7 M1597.5 1190.4 1613.1 1169.8 1627.4 1154.2 1640 1146.3 1649.2 1140 1660.9 1133.3 1672.6 1127.4 1686.8 1120.7 1701 1114.6 1715.2 1109.2 1729.5 1104.6 1743.7 1100.8 1757.9 1097.5 1772.1 1094.5 1786.3 1091.8 1800.5 1089.3 1814.7 1086.9 1828.9 1084.3 1843.1 1081.9 1858.4 1080 1869.8 1077.8 1881.2 1075 1892.5 1071.8 1903.9 1068.7 1915.3 1065.9 1926.7 1063.4 1938 1060.9 1949.4 1058.5 1960.7 1056.4 1972.1 1054.6 1985.6 1052.7 1999.1 1050.8 2012.6 1049.4 2024 1048.7 M2113.5 1047.3 2124.1 1048.2 2134.6 1050.2 2145.2 1052.5 2156 1054.8 2166.8 1057.4 2177.7 1060.2 2188.5 1063.2 2199.3 1066.4 2210.1 1069.9 2220.9 1073.6 2231.7 1077.6 2242.5 1081.8 2253.3 1086.3 2264.2 1091.1 2275 1096.3 2289.4 1104.3 2303.8 1113.1 2314.6 1120.1 2325.3 1127.5 M1626.3 1510.9 1638.6 1502.4 1650.8 1493.9 1663.1 1485.5 1675.4 1477.1 1686.9 1469.4 1698.5 1462 1710 1454.5 1721.6 1446.6 1733.1 1438.2 1747.5 1426.7 1761.9 1413.7 1776.3 1398.6 1790.8 1381.9 1805.2 1363.3 1819.6 1344.4 1834 1326.8 1848.5 1309.8 1860 1296.2 1871.5 1283.8 1883 1273.4 1894.4 1264 1905.9 1255.2 1917.3 1246.6 1928.8 1237.7 1943.2 1225.6 1957.7 1214.6 1972.1 1206.2 1986.5 1198.8 2001 1191.3 2015.4 1184.3 2029.8 1178.1 2044.2 1172.8 2058.7 1168.7 2073.1 1165.6 2087.5 1163.3 2101.9 1162.1 2116.4 1162.3 2130.8 1162.7 2145.2 1164.3 2159.6 1167 2174.1 1170.8 2188.5 1175.7 2202.9 1181.1 2217.3 1187.2 2231.8 1194.2 2246.2 1201.6 2260.6 1208.5 2275 1216.1 2289.4 1226.3 2303.8 1237.7 2314.6 1246 2325.3 1254.4 M2090.4 1510.9 2101.9 1499.6 2113.5 1491 2126.4 1484.1 2139.4 1479.4 2152.4 1476.3 2165.4 1474.8 2176.9 1474.8 2188.5 1474.8 2201.4 1476.9 2214.4 1480.9 2227.4 1485.6 2240.4 1491.5 2251 1497.1 2261.5 1503.6 2272.1 1510.9"/>
</g>
<rect x="1104" y="277.6" width="3.5" height="1230.8" fill="url(#gl)"/>
<rect x="1104" y="277.6" width="1218.8" height="3.5" fill="url(#gt)"/>
<g font-weight="bold">
<text transform="translate(1610.3 528) rotate(5.3) scale(0.985 1)" y="18.8" font-size="53" text-anchor="middle">28</text>
<text transform="translate(2158.2 488.6) rotate(-7.4) scale(0.985 1)" y="18.8" font-size="53" text-anchor="middle">28</text>
<text transform="translate(1610.3 600.2) rotate(4.7) scale(0.985 1)" y="18.8" font-size="53" text-anchor="middle">26</text>
<text transform="translate(2158.6 558.9) rotate(-4.1) scale(0.985 1)" y="18.8" font-size="53" text-anchor="middle">26</text>
<text transform="translate(1610.8 655.3) rotate(4) scale(0.985 1)" y="18.8" font-size="53" text-anchor="middle">24</text>
<text transform="translate(2158.9 611.9) rotate(-2.6) scale(0.985 1)" y="18.8" font-size="53" text-anchor="middle">24</text>
<text transform="translate(1611.2 703.8) rotate(2.9) scale(0.985 1)" y="18.8" font-size="53" text-anchor="middle">22</text>
<text transform="translate(2159.2 660.8) rotate(-0.9) scale(0.985 1)" y="18.8" font-size="53" text-anchor="middle">22</text>
<text transform="translate(1609.3 750.1) rotate(-0.4) scale(0.985 1)" y="18.8" font-size="53" text-anchor="middle">20</text>
<text transform="translate(2156 707.9) rotate(1) scale(0.985 1)" y="18.8" font-size="53" text-anchor="middle">20</text>
<text transform="translate(1597.5 800.5) rotate(-6.2) scale(0.985 1)" y="18.8" font-size="53" text-anchor="middle">18</text>
<text transform="translate(2145.3 755.7) rotate(1.3) scale(0.985 1)" y="18.8" font-size="53" text-anchor="middle">18</text>
<text transform="translate(1583.3 861.4) rotate(-19.1) scale(0.985 1)" y="18.8" font-size="53" text-anchor="middle">16</text>
<text transform="translate(2128.6 806) rotate(1.9) scale(0.985 1)" y="18.8" font-size="53" text-anchor="middle">16</text>
<text transform="translate(1564.1 935.5) rotate(-28.6) scale(0.985 1)" y="18.8" font-size="53" text-anchor="middle">14</text>
<text transform="translate(2104.1 862.5) rotate(2.4) scale(0.985 1)" y="18.8" font-size="53" text-anchor="middle">14</text>
<text transform="translate(1529.7 1058.4) rotate(-47.9) scale(0.985 1)" y="18.8" font-size="53" text-anchor="middle">12</text>
<text transform="translate(2049.3 933.3) rotate(-0.7) scale(0.985 1)" y="18.8" font-size="53" text-anchor="middle">12</text>
<text transform="translate(1574.4 1228.1) rotate(-58.5) scale(0.985 1)" y="18.8" font-size="53" text-anchor="middle">10</text>
<text transform="translate(2068.8 1048) rotate(-0.9) scale(0.985 1)" y="18.8" font-size="53" text-anchor="middle">10</text>
</g>
<clipPath id="c2"><rect x="1128" y="1794.8" width="732.7" height="1230.4"/></clipPath>
<g clip-path="url(#c2)">
<rect x="1128" y="1794.8" width="732.7" height="1230.4" fill="#E00000"/>
<path fill="#FA0000" d="M1208.7 1794.8 1219.6 1826.9 1242.7 1874.5 1262.9 1888.9 1281.6 1905.4 1291.7 1951 1299.8 1961.9 1309.6 1951.5 1317.7 1933.1 1336.4 1948.9 1355.2 1952.4 1373.9 1948.1 1392.7 1941.7 1411.4 1937.1 1430.2 1927 1448.9 1933.7 1467.7 1940 1486.4 1939.4 1505.2 1932.2 1523.9 1923.6 1542.7 1912.9 1561.4 1920.7 1579.9 1910.6 1598 1903.9 1616.7 1896.2 1635.2 1894.1 1653.9 1906.2 1672.7 1908.3 1691.2 1891 1709.9 1915.5 1728.7 1908.3 1747.1 1903.9 1765.9 1899.9 1784.6 1957.6 1803.1 1927 1821.8 1925 1840.6 1933.1 1850.7 1951 1860.7 1959.6 1860.7 3025.2 1128 3025.2 1128 1794.8 Z"/>
<path fill="#FA4000" d="M1128 1954.4 1150.4 1984.1 1169.1 1994.2 1187.9 2000.9 1206.6 2004.9 1225.4 2007.2 1244.1 2014.4 1262.9 2015 1281.6 2012.4 1300.4 2013 1317.7 2013.8 1336.4 2021.6 1355.2 2026.5 1373.9 2026.8 1392.7 2023.1 1411.4 2023.1 1430.2 2023.1 1448.9 2021.1 1467.7 2018.2 1486.4 2018.8 1505.2 2015.3 1523.9 2018.8 1542.7 2021.1 1561.4 2023.1 1567.2 2022.5 1648.8 1996.5 1672.7 1998.6 1691.2 2002.9 1709.9 2006.6 1728.7 2010.1 1747.1 2013.6 1765.9 2015.3 1784.6 2020.2 1803.1 2023.9 1821.8 2025.4 1840.6 2023.7 1860.7 2021.6 1860.7 3025.2 1128 3025.2 Z"/>
<path fill="#F58700" d="M1128 2028.3 1150.4 2039.8 1169.1 2043.8 1187.9 2045.3 1206.6 2043.8 1225.4 2042.7 1244.1 2046.7 1262.9 2048.5 1281.6 2045.6 1300.4 2043.3 1317.7 2046.2 1336.4 2053.4 1355.2 2056.2 1373.9 2054.2 1392.7 2049.9 1411.4 2053.4 1430.2 2057.1 1448.9 2058.3 1467.7 2056.2 1486.4 2060.6 1505.2 2057.1 1523.9 2060.6 1542.7 2065.8 1561.4 2069.8 1579.9 2069.8 1598 2060.6 1616.7 2049.9 1635.2 2046.7 1653.9 2049 1672.7 2051.9 1691.2 2053.4 1709.9 2053.9 1728.7 2053.4 1747.1 2052.5 1765.9 2051.9 1784.6 2057.1 1803.1 2062 1821.8 2063.5 1840.6 2061.4 1860.7 2059.7 1860.7 3025.2 1128 3025.2 Z"/>
<path fill="#FA9614" d="M1128 2075 1150.4 2078.8 1169.1 2077.9 1187.9 2079.3 1206.6 2081.3 1225.4 2078.5 1244.1 2079.3 1262.9 2079.3 1281.6 2078.5 1300.4 2074.1 1317.7 2074.4 1336.4 2080.2 1355.2 2082.8 1373.9 2076.4 1392.7 2070.1 1411.4 2073.6 1430.2 2079.3 1448.9 2083.7 1467.7 2086.5 1486.4 2095.2 1505.2 2091.4 1523.9 2092.3 1542.7 2097.5 1561.4 2105.3 1579.9 2107.3 1666.1 2101.8 1672.7 2103 1691.2 2103 1709.9 2101.8 1728.7 2099.5 1747.1 2095.8 1765.9 2093.2 1784.6 2097.2 1803.1 2099.5 1821.8 2100.1 1840.6 2097.2 1860.7 2094.6 1860.7 3025.2 1128 3025.2 Z"/>
<path fill="#FF9B32" d="M1128 2110.2 1150.4 2111.9 1169.1 2111.1 1187.9 2116 1206.6 2117.4 1225.4 2108.8 1244.1 2107.6 1262.9 2107.6 1281.6 2106.7 1300.4 2103.8 1317.7 2104.4 1336.4 2110.5 1355.2 2111.1 1373.9 2103.8 1392.7 2095.8 1411.4 2101 1430.2 2109 1448.9 2113.9 1467.7 2118.8 1486.4 2127.5 1505.2 2122.6 1523.9 2121.7 1542.7 2129.8 1561.4 2142.8 1579.9 2150 1598 2144.8 1616.7 2139 1635.2 2140.5 1653.9 2144.2 1672.7 2148 1691.2 2149.1 1709.9 2147.1 1728.7 2142.8 1747.1 2139.3 1765.9 2137 1784.6 2139.9 1803.1 2137 1821.8 2133.6 1840.6 2129.2 1860.7 2124.9 1860.7 3025.2 1128 3025.2 Z"/>
<path fill="#FFB040" d="M1128 2145.1 1150.4 2141.3 1169.1 2141.9 1187.9 2150.6 1206.6 2153.5 1225.4 2145.7 1244.1 2143.7 1262.9 2144.2 1281.6 2144.2 1300.4 2141.3 1317.7 2143.4 1336.4 2147.1 1355.2 2147.7 1373.9 2139.9 1392.7 2134.1 1411.4 2135.6 1430.2 2144.2 1448.9 2150 1467.7 2155.2 1486.4 2163 1505.2 2158.1 1523.9 2158.7 1542.7 2165 1561.4 2177.4 1574.4 2182.6 1661.7 2178.8 1672.7 2180.3 1691.2 2181.2 1709.9 2180.3 1728.7 2178.3 1747.1 2176 1765.9 2173.9 1784.6 2178 1803.1 2173.1 1821.8 2167.3 1840.6 2159.2 1860.7 2152 1860.7 3025.2 1128 3025.2 Z"/>
<path fill="#FFC837" d="M1128 2187.5 1150.4 2176.8 1169.1 2176.8 1187.9 2184.6 1206.6 2191.2 1225.4 2186.6 1244.1 2188.1 1262.9 2188.9 1281.6 2188.9 1300.4 2188.9 1317.7 2188.9 1336.4 2189.8 1355.2 2189.5 1373.9 2184 1392.7 2175.4 1411.4 2179.4 1430.2 2185.2 1448.9 2188.9 1467.7 2192.4 1486.4 2196.2 1505.2 2194.7 1523.9 2201.1 1542.7 2207.7 1561.4 2212.6 1579.9 2215.5 1598 2212 1616.7 2209.1 1635.2 2207.7 1653.9 2208.6 1672.7 2211.4 1691.2 2211.4 1709.9 2210 1728.7 2208.6 1747.1 2207.1 1765.9 2206.2 1784.6 2212.6 1803.1 2205.7 1821.8 2201.3 1840.6 2185.2 1860.7 2176 1860.7 3025.2 1128 3025.2 Z"/>
<path fill="#FFE11E" d="M1128 2232.2 1150.4 2223.6 1169.1 2225.9 1187.9 2227.3 1206.6 2240.9 1225.4 2234.2 1244.1 2232.2 1262.9 2232.2 1281.6 2230.8 1300.4 2229.3 1317.7 2227.9 1336.4 2226.4 1355.2 2225.6 1373.9 2224.1 1392.7 2217.2 1411.4 2225 1430.2 2230.8 1448.9 2233.7 1467.7 2234.2 1486.4 2236 1505.2 2234.2 1523.9 2238.8 1542.7 2242.9 1561.4 2245.8 1579.9 2245.8 1671.8 2244.6 1691.2 2242.3 1709.9 2238.8 1728.7 2236.5 1747.1 2235.1 1765.9 2233.7 1784.6 2238.8 1803.1 2230.2 1821.8 2223.6 1840.6 2210.6 1860.7 2198.5 1860.7 3025.2 1128 3025.2 Z"/>
<path fill="#FFFF00" d="M1128 2272 1150.4 2263.9 1169.1 2270.6 1187.9 2273.2 1206.6 2287 1225.4 2276.9 1244.1 2268.8 1262.9 2267.7 1281.6 2269.7 1300.4 2270.6 1317.7 2265.4 1336.4 2264.5 1355.2 2263.1 1373.9 2260.2 1392.7 2254.4 1411.4 2259.6 1430.2 2266.2 1448.9 2270.3 1467.7 2271.2 1486.4 2272.6 1505.2 2267.7 1523.9 2271.2 1542.7 2274 1561.4 2274.6 1579.9 2273.5 1598 2272.6 1616.7 2271.7 1635.2 2271.2 1653.9 2269.7 1672.7 2272.6 1691.2 2269.7 1709.9 2265.4 1728.7 2262.5 1747.1 2260.5 1765.9 2259 1784.6 2262.5 1803.1 2252.4 1821.8 2242.9 1840.6 2231.3 1860.7 2220.1 1860.7 3025.2 1128 3025.2 Z"/>
<path fill="#8CFF00" d="M1128 2310.7 1150.4 2305.8 1169.1 2313.8 1187.9 2325.1 1206.6 2336.9 1225.4 2322.2 1244.1 2308.1 1262.9 2306.3 1281.6 2311 1300.4 2313.6 1317.7 2307.8 1336.4 2303.5 1355.2 2300.6 1373.9 2297.7 1392.7 2292.8 1411.4 2297.1 1430.2 2300 1448.9 2300.6 1467.7 2300.6 1486.4 2302 1505.2 2295.1 1523.9 2296.2 1542.7 2298.6 1561.4 2300.6 1568.7 2300.6 1656 2297.1 1672.7 2297.7 1691.2 2294.2 1709.9 2289.9 1728.7 2286.4 1747.1 2287 1765.9 2287 1784.6 2283.3 1803.1 2272.6 1821.8 2263.1 1840.6 2252.4 1860.7 2242.3 1860.7 3025.2 1128 3025.2 Z"/>
<path fill="#14FF00" d="M1128 2357.7 1150.4 2349.9 1169.1 2362 1187.9 2371.5 1206.6 2384.5 1225.4 2368.7 1244.1 2353.4 1262.9 2350.5 1281.6 2351.1 1300.4 2351.3 1317.7 2345.3 1336.4 2342.4 1355.2 2339.5 1373.9 2333.8 1392.7 2327.4 1411.4 2330.3 1430.2 2331.2 1448.9 2331.2 1467.7 2329.4 1486.4 2327.4 1505.2 2319.3 1523.9 2317.9 1542.7 2319.6 1561.4 2323.1 1579.9 2323.1 1598 2321.6 1616.7 2321.1 1635.2 2321.1 1653.9 2319.3 1672.7 2322.2 1691.2 2316.4 1709.9 2310.1 1728.7 2304.3 1747.1 2303.5 1765.9 2303.8 1784.6 2298.6 1803.1 2287.9 1821.8 2279.2 1840.6 2269.7 1860.7 2261.1 1860.7 3025.2 1128 3025.2 Z"/>
<path fill="#00FF50" d="M1128 2395.8 1150.4 2392.9 1169.1 2402.4 1187.9 2418.1 1206.6 2423.8 1225.4 2409.4 1244.1 2394.3 1262.9 2392.3 1281.6 2395.8 1300.4 2398.1 1317.7 2393.2 1336.4 2388 1355.2 2379.3 1373.9 2369.2 1392.7 2359.7 1411.4 2360 1430.2 2360 1448.9 2359.7 1467.7 2359.1 1486.4 2357.7 1505.2 2347.6 1523.9 2338.1 1542.7 2338.9 1560 2341.8 1647.3 2340.4 1672.7 2344.1 1691.2 2337.5 1709.9 2328.8 1728.7 2324.5 1747.1 2323.1 1765.9 2322.2 1784.6 2319.3 1803.1 2308.7 1821.8 2299.1 1840.6 2289.3 1860.7 2279.8 1860.7 3025.2 1128 3025.2 Z"/>
<path fill="#00FFB4" d="M1128 2446.3 1150.4 2444.6 1169.1 2452.7 1187.9 2461.3 1206.6 2464.2 1225.4 2449.8 1244.1 2435.4 1262.9 2431.1 1281.6 2433.9 1300.4 2434.8 1317.7 2431.1 1336.4 2425.3 1355.2 2419.5 1373.9 2409.4 1392.7 2401 1411.4 2398.1 1430.2 2395.2 1448.9 2392.3 1467.7 2390.9 1486.4 2388.6 1505.2 2374.4 1523.9 2361.4 1542.7 2357.7 1561.4 2360 1579.9 2360.6 1598 2359.1 1616.7 2358.3 1635.2 2359.1 1653.9 2360 1672.7 2362.6 1691.2 2357.7 1709.9 2351.1 1728.7 2348.2 1747.1 2346.2 1765.9 2345.6 1784.6 2343.8 1803.1 2334.6 1821.8 2325.1 1840.6 2313 1860.7 2302 1860.7 3025.2 1128 3025.2 Z"/>
<path fill="#00FFDC" d="M1128 2504 1150.4 2502.6 1169.1 2500.9 1187.9 2502.3 1206.6 2507.5 1225.4 2493.1 1244.1 2478.7 1262.9 2472.9 1281.6 2472.3 1300.4 2471.4 1317.7 2468.6 1336.4 2464.2 1355.2 2457 1373.9 2448.4 1392.7 2439.7 1411.4 2438.8 1430.2 2435.4 1448.9 2431.1 1467.7 2426.7 1486.4 2421.5 1505.2 2405.1 1523.9 2387.4 1542.7 2383.1 1560 2384.5 1647.3 2379.3 1672.7 2382.2 1691.2 2378.5 1709.9 2373.6 1728.7 2370.7 1747.1 2371.5 1765.9 2371.5 1784.6 2370.7 1803.1 2360.6 1821.8 2351.1 1840.6 2340.4 1860.7 2330.3 1860.7 3025.2 1128 3025.2 Z"/>
<path fill="#00FFFF" d="M1128 2558 1150.4 2567.5 1169.1 2558 1187.9 2547 1206.6 2547.9 1225.4 2533.5 1244.1 2520.5 1262.9 2516.7 1281.6 2518.2 1300.4 2517.6 1317.7 2513.3 1336.4 2507.5 1355.2 2500.3 1373.9 2488.8 1392.7 2477.8 1411.4 2476.6 1430.2 2470.9 1448.9 2465.7 1467.7 2459.9 1486.4 2455 1505.2 2438.3 1523.9 2416.6 1542.7 2408.6 1561.4 2406 1579.9 2403.7 1598 2401.3 1616.7 2399.3 1635.2 2400.2 1653.9 2397.9 1672.7 2399.3 1691.2 2395.2 1709.9 2388.6 1728.7 2382.8 1747.1 2383.1 1765.9 2382.8 1784.6 2382.2 1803.1 2375 1821.8 2366.3 1840.6 2357.7 1860.7 2347.6 1860.7 3025.2 1128 3025.2 Z"/>
<path fill="#32EBFF" d="M1128 2618.6 1150.4 2622.9 1169.1 2613.7 1187.9 2596.9 1206.6 2590.6 1225.4 2581.1 1244.1 2571 1262.9 2566.1 1281.6 2563.8 1300.4 2563.2 1317.7 2560 1336.4 2554.5 1355.2 2547.3 1373.9 2536.3 1392.7 2524.8 1411.4 2521.9 1430.2 2513.3 1448.9 2506.1 1467.7 2497.4 1486.4 2488.8 1505.2 2470 1523.9 2446.9 1539.8 2437.7 1627.1 2424.7 1653.9 2419.5 1672.7 2416.6 1691.2 2412.3 1709.9 2408 1728.7 2406.5 1747.1 2407.4 1765.9 2408 1784.6 2405.1 1803.1 2395.2 1821.8 2388 1840.6 2380.2 1860.7 2373.6 1860.7 3025.2 1128 3025.2 Z"/>
<path fill="#00DCFF" d="M1128 2698.5 1150.4 2690.1 1169.1 2681.4 1187.9 2660.4 1206.6 2641.1 1225.4 2633.6 1244.1 2626.6 1262.9 2620.9 1281.6 2617.1 1300.4 2614.2 1317.7 2613.4 1336.4 2612.8 1355.2 2608.5 1373.9 2598.4 1392.7 2586.8 1411.4 2582.5 1430.2 2568.1 1448.9 2552.2 1467.7 2536.3 1486.4 2523.4 1505.2 2504 1523.9 2480.1 1542.7 2468.6 1561.4 2463.4 1579.9 2455.6 1598 2451.2 1616.7 2448.4 1635.2 2446.9 1653.9 2444.6 1672.7 2442.6 1691.2 2439.7 1709.9 2437.4 1728.7 2436.8 1747.1 2438.8 1765.9 2441.7 1784.6 2437.7 1803.1 2429.6 1821.8 2422.4 1840.6 2415.2 1860.7 2408.8 1860.7 3025.2 1128 3025.2 Z"/>
<path fill="#00BEFF" d="M1128 2798.8 1150.4 2783 1169.1 2777.8 1187.9 2757 1206.6 2726.7 1225.4 2711.7 1244.1 2697.9 1262.9 2689.8 1281.6 2685.8 1300.4 2681.4 1317.7 2679.1 1336.4 2674.8 1355.2 2669.9 1373.9 2665.6 1392.7 2656.9 1411.4 2650.3 1430.2 2643.7 1448.9 2628.1 1467.7 2602.7 1486.4 2578.2 1503.8 2560.9 1570.1 2498.8 1579.9 2491.6 1598 2481.5 1616.7 2474.3 1635.2 2471.4 1653.9 2472.9 1672.7 2474.9 1691.2 2473.5 1709.9 2472.9 1728.7 2474.3 1747.1 2478.7 1765.9 2481.5 1784.6 2478.1 1803.1 2468.6 1821.8 2458.5 1840.6 2456.4 1860.7 2454.1 1860.7 3025.2 1128 3025.2 Z"/>
<path fill="#009FFF" d="M1128 2905 1150.4 2905 1169.1 2893.5 1187.9 2864.3 1206.6 2845 1225.4 2827.7 1244.1 2811.8 1262.9 2798.8 1281.6 2789.6 1300.4 2780.1 1317.7 2772.3 1336.4 2763.4 1355.2 2763.7 1373.9 2781.5 1392.7 2788.2 1411.4 2775.2 1430.2 2751.2 1448.9 2729 1467.7 2708.6 1486.4 2687.8 1505.2 2656.1 1523.9 2625.8 1542.7 2601.2 1561.4 2579.6 1579.9 2560.9 1598 2540.7 1616.7 2524.8 1635.2 2512.7 1653.9 2512.4 1672.7 2516.2 1691.2 2517 1709.9 2518.2 1728.7 2521.9 1747.1 2528.3 1765.9 2532.9 1784.6 2531.4 1803.1 2523.9 1821.8 2518.2 1840.6 2518.2 1860.7 2516.7 1860.7 3025.2 1128 3025.2 Z"/>
<path fill="#0055FF" d="M1179.2 3025.2 1187.9 3010.9 1206.6 2980.6 1225.4 2964.7 1244.1 2948 1262.9 2938.8 1281.6 2935.9 1300.4 2931.5 1317.7 2922.9 1336.4 2909.3 1355.2 2916.5 1373.9 2946 1392.7 2958.9 1411.4 2946.5 1430.2 2924.3 1448.9 2904.1 1467.7 2881.1 1486.4 2863.8 1505.2 2845 1518.2 2833.5 1569.4 2760.8 1579.5 2752.7 1598 2721 1616.7 2695 1635.2 2669 1653.9 2634.4 1672.7 2605 1691.2 2596.9 1709.9 2593.2 1728.7 2598.9 1747.1 2609.9 1765.9 2617.7 1784.6 2616.2 1803.1 2607.9 1821.8 2603.6 1840.6 2605.6 1860.7 2607.9 1860.7 3025.2 Z"/>
<path fill="#0000FF" d="M1640.1 3025.2 1653.9 2986.3 1672.7 2931.5 1691.2 2876.7 1709.9 2833.5 1728.7 2801.7 1747.1 2785.9 1765.9 2771.4 1784.6 2786.4 1803.1 2772.9 1821.8 2772.3 1840.6 2784.4 1860.7 2793.9 1860.7 3025.2 Z"/>
<path fill="none" stroke="#000" stroke-width="2.2" stroke-linejoin="round" d="M1208.7 1794.8 1219.6 1826.9 1242.7 1874.5 1262.9 1888.9 1281.6 1905.4 1291.7 1951 1299.8 1961.9 1309.6 1951.5 1317.7 1933.1 1336.4 1948.9 1355.2 1952.4 1373.9 1948.1 1392.7 1941.7 1411.4 1937.1 1430.2 1927 1448.9 1933.7 1467.7 1940 1486.4 1939.4 1505.2 1932.2 1523.9 1923.6 1542.7 1912.9 1561.4 1920.7 1579.9 1910.6 1598 1903.9 1616.7 1896.2 1635.2 1894.1 1653.9 1906.2 1672.7 1908.3 1691.2 1891 1709.9 1915.5 1728.7 1908.3 1747.1 1903.9 1765.9 1899.9 1784.6 1957.6 1803.1 1927 1821.8 1925 1840.6 1933.1 1850.7 1951 1860.7 1959.6 M1128 1954.4 1150.4 1984.1 1169.1 1994.2 1187.9 2000.9 1206.6 2004.9 1225.4 2007.2 1244.1 2014.4 1262.9 2015 1281.6 2012.4 1300.4 2013 1317.7 2013.8 1336.4 2021.6 1355.2 2026.5 1373.9 2026.8 1392.7 2023.1 1411.4 2023.1 1430.2 2023.1 1448.9 2021.1 1467.7 2018.2 1486.4 2018.8 1505.2 2015.3 1523.9 2018.8 1542.7 2021.1 1561.4 2023.1 1567.2 2022.5 M1648.8 1996.5 1672.7 1998.6 1691.2 2002.9 1709.9 2006.6 1728.7 2010.1 1747.1 2013.6 1765.9 2015.3 1784.6 2020.2 1803.1 2023.9 1821.8 2025.4 1840.6 2023.7 1860.7 2021.6 M1128 2028.3 1150.4 2039.8 1169.1 2043.8 1187.9 2045.3 1206.6 2043.8 1225.4 2042.7 1244.1 2046.7 1262.9 2048.5 1281.6 2045.6 1300.4 2043.3 1317.7 2046.2 1336.4 2053.4 1355.2 2056.2 1373.9 2054.2 1392.7 2049.9 1411.4 2053.4 1430.2 2057.1 1448.9 2058.3 1467.7 2056.2 1486.4 2060.6 1505.2 2057.1 1523.9 2060.6 1542.7 2065.8 1561.4 2069.8 1579.9 2069.8 1598 2060.6 1616.7 2049.9 1635.2 2046.7 1653.9 2049 1672.7 2051.9 1691.2 2053.4 1709.9 2053.9 1728.7 2053.4 1747.1 2052.5 1765.9 2051.9 1784.6 2057.1 1803.1 2062 1821.8 2063.5 1840.6 2061.4 1860.7 2059.7 M1128 2075 1150.4 2078.8 1169.1 2077.9 1187.9 2079.3 1206.6 2081.3 1225.4 2078.5 1244.1 2079.3 1262.9 2079.3 1281.6 2078.5 1300.4 2074.1 1317.7 2074.4 1336.4 2080.2 1355.2 2082.8 1373.9 2076.4 1392.7 2070.1 1411.4 2073.6 1430.2 2079.3 1448.9 2083.7 1467.7 2086.5 1486.4 2095.2 1505.2 2091.4 1523.9 2092.3 1542.7 2097.5 1561.4 2105.3 1579.5 2107.3 M1666.1 2101.8 1672.7 2103 1691.2 2103 1709.9 2101.8 1728.7 2099.5 1747.1 2095.8 1765.9 2093.2 1784.6 2097.2 1803.1 2099.5 1821.8 2100.1 1840.6 2097.2 1860.7 2094.6 M1128 2110.2 1150.4 2111.9 1169.1 2111.1 1187.9 2116 1206.6 2117.4 1225.4 2108.8 1244.1 2107.6 1262.9 2107.6 1281.6 2106.7 1300.4 2103.8 1317.7 2104.4 1336.4 2110.5 1355.2 2111.1 1373.9 2103.8 1392.7 2095.8 1411.4 2101 1430.2 2109 1448.9 2113.9 1467.7 2118.8 1486.4 2127.5 1505.2 2122.6 1523.9 2121.7 1542.7 2129.8 1561.4 2142.8 1579.9 2150 1598 2144.8 1616.7 2139 1635.2 2140.5 1653.9 2144.2 1672.7 2148 1691.2 2149.1 1709.9 2147.1 1728.7 2142.8 1747.1 2139.3 1765.9 2137 1784.6 2139.9 1803.1 2137 1821.8 2133.6 1840.6 2129.2 1860.7 2124.9 M1128 2145.1 1150.4 2141.3 1169.1 2141.9 1187.9 2150.6 1206.6 2153.5 1225.4 2145.7 1244.1 2143.7 1262.9 2144.2 1281.6 2144.2 1300.4 2141.3 1317.7 2143.4 1336.4 2147.1 1355.2 2147.7 1373.9 2139.9 1392.7 2134.1 1411.4 2135.6 1430.2 2144.2 1448.9 2150 1467.7 2155.2 1486.4 2163 1505.2 2158.1 1523.9 2158.7 1542.7 2165 1561.4 2177.4 1574.4 2182.6 M1661.7 2178.8 1672.7 2180.3 1691.2 2181.2 1709.9 2180.3 1728.7 2178.3 1747.1 2176 1765.9 2173.9 1784.6 2178 1803.1 2173.1 1821.8 2167.3 1840.6 2159.2 1860.7 2152 M1128 2187.5 1150.4 2176.8 1169.1 2176.8 1187.9 2184.6 1206.6 2191.2 1225.4 2186.6 1244.1 2188.1 1262.9 2188.9 1281.6 2188.9 1300.4 2188.9 1317.7 2188.9 1336.4 2189.8 1355.2 2189.5 1373.9 2184 1392.7 2175.4 1411.4 2179.4 1430.2 2185.2 1448.9 2188.9 1467.7 2192.4 1486.4 2196.2 1505.2 2194.7 1523.9 2201.1 1542.7 2207.7 1561.4 2212.6 1579.9 2215.5 1598 2212 1616.7 2209.1 1635.2 2207.7 1653.9 2208.6 1672.7 2211.4 1691.2 2211.4 1709.9 2210 1728.7 2208.6 1747.1 2207.1 1765.9 2206.2 1784.6 2212.6 1803.1 2205.7 1821.8 2201.3 1840.6 2185.2 1860.7 2176 M1128 2232.2 1150.4 2223.6 1169.1 2225.9 1187.9 2227.3 1206.6 2240.9 1225.4 2234.2 1244.1 2232.2 1262.9 2232.2 1281.6 2230.8 1300.4 2229.3 1317.7 2227.9 1336.4 2226.4 1355.2 2225.6 1373.9 2224.1 1392.7 2217.2 1411.4 2225 1430.2 2230.8 1448.9 2233.7 1467.7 2234.2 1486.4 2236 1505.2 2234.2 1523.9 2238.8 1542.7 2242.9 1561.4 2245.8 1579.5 2245.8 M1671.8 2244.6 1691.2 2242.3 1709.9 2238.8 1728.7 2236.5 1747.1 2235.1 1765.9 2233.7 1784.6 2238.8 1803.1 2230.2 1821.8 2223.6 1840.6 2210.6 1860.7 2198.5 M1128 2272 1150.4 2263.9 1169.1 2270.6 1187.9 2273.2 1206.6 2287 1225.4 2276.9 1244.1 2268.8 1262.9 2267.7 1281.6 2269.7 1300.4 2270.6 1317.7 2265.4 1336.4 2264.5 1355.2 2263.1 1373.9 2260.2 1392.7 2254.4 1411.4 2259.6 1430.2 2266.2 1448.9 2270.3 1467.7 2271.2 1486.4 2272.6 1505.2 2267.7 1523.9 2271.2 1542.7 2274 1561.4 2274.6 1579.9 2273.5 1598 2272.6 1616.7 2271.7 1635.2 2271.2 1653.9 2269.7 1672.7 2272.6 1691.2 2269.7 1709.9 2265.4 1728.7 2262.5 1747.1 2260.5 1765.9 2259 1784.6 2262.5 1803.1 2252.4 1821.8 2242.9 1840.6 2231.3 1860.7 2220.1 M1128 2310.7 1150.4 2305.8 1169.1 2313.8 1187.9 2325.1 1206.6 2336.9 1225.4 2322.2 1244.1 2308.1 1262.9 2306.3 1281.6 2311 1300.4 2313.6 1317.7 2307.8 1336.4 2303.5 1355.2 2300.6 1373.9 2297.7 1392.7 2292.8 1411.4 2297.1 1430.2 2300 1448.9 2300.6 1467.7 2300.6 1486.4 2302 1505.2 2295.1 1523.9 2296.2 1542.7 2298.6 1561.4 2300.6 1568.7 2300.6 M1656 2297.1 1672.7 2297.7 1691.2 2294.2 1709.9 2289.9 1728.7 2286.4 1747.1 2287 1765.9 2287 1784.6 2283.3 1803.1 2272.6 1821.8 2263.1 1840.6 2252.4 1860.7 2242.3 M1128 2357.7 1150.4 2349.9 1169.1 2362 1187.9 2371.5 1206.6 2384.5 1225.4 2368.7 1244.1 2353.4 1262.9 2350.5 1281.6 2351.1 1300.4 2351.3 1317.7 2345.3 1336.4 2342.4 1355.2 2339.5 1373.9 2333.8 1392.7 2327.4 1411.4 2330.3 1430.2 2331.2 1448.9 2331.2 1467.7 2329.4 1486.4 2327.4 1505.2 2319.3 1523.9 2317.9 1542.7 2319.6 1561.4 2323.1 1579.9 2323.1 1598 2321.6 1616.7 2321.1 1635.2 2321.1 1653.9 2319.3 1672.7 2322.2 1691.2 2316.4 1709.9 2310.1 1728.7 2304.3 1747.1 2303.5 1765.9 2303.8 1784.6 2298.6 1803.1 2287.9 1821.8 2279.2 1840.6 2269.7 1860.7 2261.1 M1128 2395.8 1150.4 2392.9 1169.1 2402.4 1187.9 2418.1 1206.6 2423.8 1225.4 2409.4 1244.1 2394.3 1262.9 2392.3 1281.6 2395.8 1300.4 2398.1 1317.7 2393.2 1336.4 2388 1355.2 2379.3 1373.9 2369.2 1392.7 2359.7 1411.4 2360 1430.2 2360 1448.9 2359.7 1467.7 2359.1 1486.4 2357.7 1505.2 2347.6 1523.9 2338.1 1542.7 2338.9 1560 2341.8 M1647.3 2340.4 1672.7 2344.1 1691.2 2337.5 1709.9 2328.8 1728.7 2324.5 1747.1 2323.1 1765.9 2322.2 1784.6 2319.3 1803.1 2308.7 1821.8 2299.1 1840.6 2289.3 1860.7 2279.8 M1128 2446.3 1150.4 2444.6 1169.1 2452.7 1187.9 2461.3 1206.6 2464.2 1225.4 2449.8 1244.1 2435.4 1262.9 2431.1 1281.6 2433.9 1300.4 2434.8 1317.7 2431.1 1336.4 2425.3 1355.2 2419.5 1373.9 2409.4 1392.7 2401 1411.4 2398.1 1430.2 2395.2 1448.9 2392.3 1467.7 2390.9 1486.4 2388.6 1505.2 2374.4 1523.9 2361.4 1542.7 2357.7 1561.4 2360 1579.9 2360.6 1598 2359.1 1616.7 2358.3 1635.2 2359.1 1653.9 2360 1672.7 2362.6 1691.2 2357.7 1709.9 2351.1 1728.7 2348.2 1747.1 2346.2 1765.9 2345.6 1784.6 2343.8 1803.1 2334.6 1821.8 2325.1 1840.6 2313 1860.7 2302 M1128 2504 1150.4 2502.6 1169.1 2500.9 1187.9 2502.3 1206.6 2507.5 1225.4 2493.1 1244.1 2478.7 1262.9 2472.9 1281.6 2472.3 1300.4 2471.4 1317.7 2468.6 1336.4 2464.2 1355.2 2457 1373.9 2448.4 1392.7 2439.7 1411.4 2438.8 1430.2 2435.4 1448.9 2431.1 1467.7 2426.7 1486.4 2421.5 1505.2 2405.1 1523.9 2387.4 1542.7 2383.1 1560 2384.5 M1647.3 2379.3 1672.7 2382.2 1691.2 2378.5 1709.9 2373.6 1728.7 2370.7 1747.1 2371.5 1765.9 2371.5 1784.6 2370.7 1803.1 2360.6 1821.8 2351.1 1840.6 2340.4 1860.7 2330.3 M1128 2558 1150.4 2567.5 1169.1 2558 1187.9 2547 1206.6 2547.9 1225.4 2533.5 1244.1 2520.5 1262.9 2516.7 1281.6 2518.2 1300.4 2517.6 1317.7 2513.3 1336.4 2507.5 1355.2 2500.3 1373.9 2488.8 1392.7 2477.8 1411.4 2476.6 1430.2 2470.9 1448.9 2465.7 1467.7 2459.9 1486.4 2455 1505.2 2438.3 1523.9 2416.6 1542.7 2408.6 1561.4 2406 1579.9 2403.7 1598 2401.3 1616.7 2399.3 1635.2 2400.2 1653.9 2397.9 1672.7 2399.3 1691.2 2395.2 1709.9 2388.6 1728.7 2382.8 1747.1 2383.1 1765.9 2382.8 1784.6 2382.2 1803.1 2375 1821.8 2366.3 1840.6 2357.7 1860.7 2347.6 M1128 2618.6 1150.4 2622.9 1169.1 2613.7 1187.9 2596.9 1206.6 2590.6 1225.4 2581.1 1244.1 2571 1262.9 2566.1 1281.6 2563.8 1300.4 2563.2 1317.7 2560 1336.4 2554.5 1355.2 2547.3 1373.9 2536.3 1392.7 2524.8 1411.4 2521.9 1430.2 2513.3 1448.9 2506.1 1467.7 2497.4 1486.4 2488.8 1505.2 2470 1523.9 2446.9 1539.5 2437.9 M1627.1 2424.7 1653.9 2419.5 1672.7 2416.6 1691.2 2412.3 1709.9 2408 1728.7 2406.5 1747.1 2407.4 1765.9 2408 1784.6 2405.1 1803.1 2395.2 1821.8 2388 1840.6 2380.2 1860.7 2373.6 M1128 2698.5 1150.4 2690.1 1169.1 2681.4 1187.9 2660.4 1206.6 2641.1 1225.4 2633.6 1244.1 2626.6 1262.9 2620.9 1281.6 2617.1 1300.4 2614.2 1317.7 2613.4 1336.4 2612.8 1355.2 2608.5 1373.9 2598.4 1392.7 2586.8 1411.4 2582.5 1430.2 2568.1 1448.9 2552.2 1467.7 2536.3 1486.4 2523.4 1505.2 2504 1523.9 2480.1 1542.7 2468.6 1561.4 2463.4 1579.9 2455.6 1598 2451.2 1616.7 2448.4 1635.2 2446.9 1653.9 2444.6 1672.7 2442.6 1691.2 2439.7 1709.9 2437.4 1728.7 2436.8 1747.1 2438.8 1765.9 2441.7 1784.6 2437.7 1803.1 2429.6 1821.8 2422.4 1840.6 2415.2 1860.7 2408.8 M1128 2798.8 1150.4 2783 1169.1 2777.8 1187.9 2757 1206.6 2726.7 1225.4 2711.7 1244.1 2697.9 1262.9 2689.8 1281.6 2685.8 1300.4 2681.4 1317.7 2679.1 1336.4 2674.8 1355.2 2669.9 1373.9 2665.6 1392.7 2656.9 1411.4 2650.3 1430.2 2643.7 1448.9 2628.1 1467.7 2602.7 1486.4 2578.2 1503.7 2561 M1570.1 2498.8 1579.9 2491.6 1598 2481.5 1616.7 2474.3 1635.2 2471.4 1653.9 2472.9 1672.7 2474.9 1691.2 2473.5 1709.9 2472.9 1728.7 2474.3 1747.1 2478.7 1765.9 2481.5 1784.6 2478.1 1803.1 2468.6 1821.8 2458.5 1840.6 2456.4 1860.7 2454.1 M1128 2905 1150.4 2905 1169.1 2893.5 1187.9 2864.3 1206.6 2845 1225.4 2827.7 1244.1 2811.8 1262.9 2798.8 1281.6 2789.6 1300.4 2780.1 1317.7 2772.3 1336.4 2763.4 1355.2 2763.7 1373.9 2781.5 1392.7 2788.2 1411.4 2775.2 1430.2 2751.2 1448.9 2729 1467.7 2708.6 1486.4 2687.8 1505.2 2656.1 1523.9 2625.8 1542.7 2601.2 1561.4 2579.6 1579.9 2560.9 1598 2540.7 1616.7 2524.8 1635.2 2512.7 1653.9 2512.4 1672.7 2516.2 1691.2 2517 1709.9 2518.2 1728.7 2521.9 1747.1 2528.3 1765.9 2532.9 1784.6 2531.4 1803.1 2523.9 1821.8 2518.2 1840.6 2518.2 1860.7 2516.7 M1179.2 3025.2 1187.9 3010.9 1206.6 2980.6 1225.4 2964.7 1244.1 2948 1262.9 2938.8 1281.6 2935.9 1300.4 2931.5 1317.7 2922.9 1336.4 2909.3 1355.2 2916.5 1373.9 2946 1392.7 2958.9 1411.4 2946.5 1430.2 2924.3 1448.9 2904.1 1467.7 2881.1 1486.4 2863.8 1505.2 2845 1518.2 2833.5 M1569.4 2760.8 1579.5 2752.7 1598 2721 1616.7 2695 1635.2 2669 1653.9 2634.4 1672.7 2605 1691.2 2596.9 1709.9 2593.2 1728.7 2598.9 1747.1 2609.9 1765.9 2617.7 1784.6 2616.2 1803.1 2607.9 1821.8 2603.6 1840.6 2605.6 1860.7 2607.9 M1640.1 3025.2 1653.9 2986.3 1672.7 2931.5 1691.2 2876.7 1709.9 2833.5 1728.7 2801.7 1747.1 2785.9 1765.9 2771.4 1784.6 2786.4 1803.1 2772.9 1821.8 2772.3 1840.6 2784.4 1860.7 2793.9"/>
</g>
<rect x="1127.5" y="1794.3" width="3.5" height="1228.4" fill="url(#gl)"/>
<rect x="1127.5" y="1794.3" width="733.7" height="3.5" fill="url(#gt)"/>
<rect x="1857.7" y="1794.3" width="3.5" height="1228.4" fill="url(#gr)"/>
<g font-weight="bold">
<text transform="translate(1608.2 2010.6) rotate(-26) scale(0.985 1)" y="18.8" font-size="53" text-anchor="middle">28</text>
<text transform="translate(1622.8 2104.5) rotate(-3.6) scale(0.985 1)" y="18.8" font-size="53" text-anchor="middle">26</text>
<text transform="translate(1618.1 2180.7) rotate(-2.5) scale(0.985 1)" y="18.8" font-size="53" text-anchor="middle">24</text>
<text transform="translate(1625.7 2245.2) rotate(-0.7) scale(0.985 1)" y="18.8" font-size="53" text-anchor="middle">22</text>
<text transform="translate(1612.3 2298.8) rotate(-2.3) scale(0.985 1)" y="18.8" font-size="53" text-anchor="middle">20</text>
<text transform="translate(1603.7 2341.1) rotate(-0.9) scale(0.985 1)" y="18.8" font-size="53" text-anchor="middle">18</text>
<text transform="translate(1603.7 2381.9) rotate(-3.4) scale(0.985 1)" y="18.8" font-size="53" text-anchor="middle">16</text>
<text transform="translate(1583.3 2431.3) rotate(-8.6) scale(0.985 1)" y="18.8" font-size="53" text-anchor="middle">14</text>
<text transform="translate(1536.9 2529.9) rotate(-43.1) scale(0.985 1)" y="18.8" font-size="53" text-anchor="middle">12</text>
<text transform="translate(1543.8 2797.2) rotate(-54.8) scale(0.985 1)" y="18.8" font-size="53" text-anchor="middle">10</text>
</g>
<g stroke="#000" stroke-linecap="round" fill="none">
<rect x="460.4" y="265.7" width="1864.9" height="1245.2" stroke-width="4.4" stroke-linejoin="miter"/>
<path stroke-width="4.4" d="M460.4 265.7 v-40.4 M460.4 1510.9 v40.4 M926.6 265.7 v-40.4 M926.6 1510.9 v40.4 M1392.8 265.7 v-40.4 M1392.8 1510.9 v40.4 M1859.1 265.7 v-40.4 M1859.1 1510.9 v40.4 M2325.3 265.7 v-40.4 M2325.3 1510.9 v40.4 M460.4 265.7 h-40.4 M2325.3 265.7 h40.4 M460.4 577 h-40.4 M2325.3 577 h40.4 M460.4 888.3 h-40.4 M2325.3 888.3 h40.4 M460.4 1199.6 h-40.4 M2325.3 1199.6 h40.4 M460.4 1510.9 h-40.4 M2325.3 1510.9 h40.4"/>
<path stroke-width="2.4" d="M553.6 265.7 v-20.4 M553.6 1510.9 v20.4 M646.9 265.7 v-20.4 M646.9 1510.9 v20.4 M740.1 265.7 v-20.4 M740.1 1510.9 v20.4 M833.4 265.7 v-20.4 M833.4 1510.9 v20.4 M1019.9 265.7 v-20.4 M1019.9 1510.9 v20.4 M1113.1 265.7 v-20.4 M1113.1 1510.9 v20.4 M1206.4 265.7 v-20.4 M1206.4 1510.9 v20.4 M1299.6 265.7 v-20.4 M1299.6 1510.9 v20.4 M1486.1 265.7 v-20.4 M1486.1 1510.9 v20.4 M1579.3 265.7 v-20.4 M1579.3 1510.9 v20.4 M1672.6 265.7 v-20.4 M1672.6 1510.9 v20.4 M1765.8 265.7 v-20.4 M1765.8 1510.9 v20.4 M1952.3 265.7 v-20.4 M1952.3 1510.9 v20.4 M2045.6 265.7 v-20.4 M2045.6 1510.9 v20.4 M2138.8 265.7 v-20.4 M2138.8 1510.9 v20.4 M2232.1 265.7 v-20.4 M2232.1 1510.9 v20.4 M460.4 328 h-20.4 M2325.3 328 h20.4 M460.4 390.2 h-20.4 M2325.3 390.2 h20.4 M460.4 452.5 h-20.4 M2325.3 452.5 h20.4 M460.4 514.7 h-20.4 M2325.3 514.7 h20.4 M460.4 639.3 h-20.4 M2325.3 639.3 h20.4 M460.4 701.5 h-20.4 M2325.3 701.5 h20.4 M460.4 763.8 h-20.4 M2325.3 763.8 h20.4 M460.4 826 h-20.4 M2325.3 826 h20.4 M460.4 950.6 h-20.4 M2325.3 950.6 h20.4 M460.4 1012.8 h-20.4 M2325.3 1012.8 h20.4 M460.4 1075.1 h-20.4 M2325.3 1075.1 h20.4 M460.4 1137.3 h-20.4 M2325.3 1137.3 h20.4 M460.4 1261.9 h-20.4 M2325.3 1261.9 h20.4 M460.4 1324.1 h-20.4 M2325.3 1324.1 h20.4 M460.4 1386.4 h-20.4 M2325.3 1386.4 h20.4 M460.4 1448.6 h-20.4 M2325.3 1448.6 h20.4"/>
</g>
<g stroke="#000" stroke-linecap="round" fill="none">
<rect x="460.4" y="1780.1" width="1864.9" height="1245.1" stroke-width="4.4" stroke-linejoin="miter"/>
<path stroke-width="4.4" d="M460.4 1780.1 v-40.4 M460.4 3025.2 v40.4 M926.6 1780.1 v-40.4 M926.6 3025.2 v40.4 M1392.8 1780.1 v-40.4 M1392.8 3025.2 v40.4 M1859.1 1780.1 v-40.4 M1859.1 3025.2 v40.4 M2325.3 1780.1 v-40.4 M2325.3 3025.2 v40.4 M460.4 1780.1 h-40.4 M2325.3 1780.1 h40.4 M460.4 2091.4 h-40.4 M2325.3 2091.4 h40.4 M460.4 2402.7 h-40.4 M2325.3 2402.7 h40.4 M460.4 2714 h-40.4 M2325.3 2714 h40.4 M460.4 3025.3 h-40.4 M2325.3 3025.3 h40.4"/>
<path stroke-width="2.4" d="M553.6 1780.1 v-20.4 M553.6 3025.2 v20.4 M646.9 1780.1 v-20.4 M646.9 3025.2 v20.4 M740.1 1780.1 v-20.4 M740.1 3025.2 v20.4 M833.4 1780.1 v-20.4 M833.4 3025.2 v20.4 M1019.9 1780.1 v-20.4 M1019.9 3025.2 v20.4 M1113.1 1780.1 v-20.4 M1113.1 3025.2 v20.4 M1206.4 1780.1 v-20.4 M1206.4 3025.2 v20.4 M1299.6 1780.1 v-20.4 M1299.6 3025.2 v20.4 M1486.1 1780.1 v-20.4 M1486.1 3025.2 v20.4 M1579.3 1780.1 v-20.4 M1579.3 3025.2 v20.4 M1672.6 1780.1 v-20.4 M1672.6 3025.2 v20.4 M1765.8 1780.1 v-20.4 M1765.8 3025.2 v20.4 M1952.3 1780.1 v-20.4 M1952.3 3025.2 v20.4 M2045.6 1780.1 v-20.4 M2045.6 3025.2 v20.4 M2138.8 1780.1 v-20.4 M2138.8 3025.2 v20.4 M2232.1 1780.1 v-20.4 M2232.1 3025.2 v20.4 M460.4 1842.4 h-20.4 M2325.3 1842.4 h20.4 M460.4 1904.6 h-20.4 M2325.3 1904.6 h20.4 M460.4 1966.9 h-20.4 M2325.3 1966.9 h20.4 M460.4 2029.1 h-20.4 M2325.3 2029.1 h20.4 M460.4 2153.7 h-20.4 M2325.3 2153.7 h20.4 M460.4 2215.9 h-20.4 M2325.3 2215.9 h20.4 M460.4 2278.2 h-20.4 M2325.3 2278.2 h20.4 M460.4 2340.4 h-20.4 M2325.3 2340.4 h20.4 M460.4 2465 h-20.4 M2325.3 2465 h20.4 M460.4 2527.2 h-20.4 M2325.3 2527.2 h20.4 M460.4 2589.5 h-20.4 M2325.3 2589.5 h20.4 M460.4 2651.7 h-20.4 M2325.3 2651.7 h20.4 M460.4 2776.3 h-20.4 M2325.3 2776.3 h20.4 M460.4 2838.5 h-20.4 M2325.3 2838.5 h20.4 M460.4 2900.8 h-20.4 M2325.3 2900.8 h20.4 M460.4 2963 h-20.4 M2325.3 2963 h20.4"/>
</g>
<g font-weight="bold">
<text transform="translate(378 285.7) scale(0.95 1)" font-size="60" text-anchor="end">0</text>
<text transform="translate(378 597) scale(0.95 1)" font-size="60" text-anchor="end">100</text>
<text transform="translate(378 908.3) scale(0.95 1)" font-size="60" text-anchor="end">200</text>
<text transform="translate(378 1219.6) scale(0.95 1)" font-size="60" text-anchor="end">300</text>
<text transform="translate(378 1530.9) scale(0.95 1)" font-size="60" text-anchor="end">400</text>
<text transform="translate(460.4 1640.6) scale(0.95 1)" font-size="60" text-anchor="middle">10<tspan font-size="37.8" dy="-27">o</tspan><tspan dy="27">S</tspan></text>
<text transform="translate(926.6 1640.6) scale(0.95 1)" font-size="60" text-anchor="middle">5<tspan font-size="37.8" dy="-27">o</tspan><tspan dy="27">S</tspan></text>
<text transform="translate(1392.8 1635.6) scale(0.95 1)" font-size="60" text-anchor="middle">EQ</text>
<text transform="translate(1859.1 1640.6) scale(0.95 1)" font-size="60" text-anchor="middle">5<tspan font-size="37.8" dy="-27">o</tspan><tspan dy="27">N</tspan></text>
<text transform="translate(2325.3 1640.6) scale(0.95 1)" font-size="60" text-anchor="middle">10<tspan font-size="37.8" dy="-27">o</tspan><tspan dy="27">N</tspan></text>
<text transform="translate(228 888.3) rotate(-90) scale(0.925 1)" font-size="77" text-anchor="middle">DEPTH (m)</text>
</g>
<g font-weight="bold">
<text transform="translate(378 1800.1) scale(0.95 1)" font-size="60" text-anchor="end">0</text>
<text transform="translate(378 2111.4) scale(0.95 1)" font-size="60" text-anchor="end">100</text>
<text transform="translate(378 2422.7) scale(0.95 1)" font-size="60" text-anchor="end">200</text>
<text transform="translate(378 2734) scale(0.95 1)" font-size="60" text-anchor="end">300</text>
<text transform="translate(378 3045.3) scale(0.95 1)" font-size="60" text-anchor="end">400</text>
<text transform="translate(460.4 3154.9) scale(0.95 1)" font-size="60" text-anchor="middle">10<tspan font-size="37.8" dy="-27">o</tspan><tspan dy="27">S</tspan></text>
<text transform="translate(926.6 3154.9) scale(0.95 1)" font-size="60" text-anchor="middle">5<tspan font-size="37.8" dy="-27">o</tspan><tspan dy="27">S</tspan></text>
<text transform="translate(1392.8 3149.9) scale(0.95 1)" font-size="60" text-anchor="middle">EQ</text>
<text transform="translate(1859.1 3154.9) scale(0.95 1)" font-size="60" text-anchor="middle">5<tspan font-size="37.8" dy="-27">o</tspan><tspan dy="27">N</tspan></text>
<text transform="translate(2325.3 3154.9) scale(0.95 1)" font-size="60" text-anchor="middle">10<tspan font-size="37.8" dy="-27">o</tspan><tspan dy="27">N</tspan></text>
<text transform="translate(228 2402.6) rotate(-90) scale(0.925 1)" font-size="77" text-anchor="middle">DEPTH (m)</text>
</g>
<g font-weight="bold">
<text transform="translate(1394 204.6) scale(0.944 1)" font-size="60" text-anchor="middle">TEMP AT 142.8<tspan font-size="37.8" dy="-27">o</tspan><tspan dy="27">E (</tspan><tspan font-size="37.8" dy="-27">o</tspan><tspan dy="27">C), f09.B-hist.tn15.cmip6.k40 [1865-1894]</tspan></text>
<text transform="translate(1391.7 1719.6) scale(0.944 1)" font-size="60" text-anchor="middle">TEMP AT 143 (<tspan font-size="37.8" dy="-27">o</tspan><tspan dy="27">C), Johnson et al (2002)</tspan></text>
</g>
</svg>
</body></html>
